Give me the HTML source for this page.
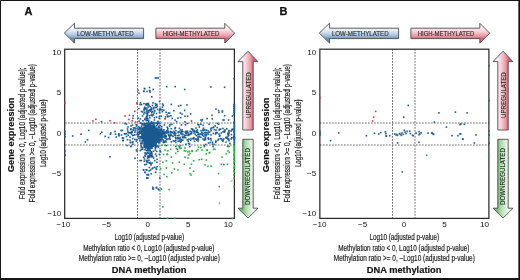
<!DOCTYPE html>
<html><head><meta charset="utf-8"><title>Figure</title>
<style>html,body{margin:0;padding:0;background:#fff;} body{position:relative;width:520px;height:280px;overflow:hidden;} svg{display:block;will-change:transform;} #main{filter:blur(0.3px);} #frame{position:absolute;left:0;top:0;} text{font-family:"Liberation Sans", sans-serif;} .t{fill:#151515;stroke:#151515;stroke-width:0.16px;} .k{fill:#111;} b{} .b{fill:#111;stroke:#111;stroke-width:0.15px;} .ar{fill:#2a2a2a;stroke:#2a2a2a;stroke-width:0.12px;}</style>
</head><body>
<svg id="main" width="520" height="280" viewBox="0 0 520 280">

<rect x="0" y="0" width="520" height="280" fill="#fff"/>
<defs>
<linearGradient id="gbA" gradientUnits="userSpaceOnUse" x1="0" y1="28.2" x2="0" y2="38.6"><stop offset="0" stop-color="#f4f8fb"/><stop offset="0.35" stop-color="#d6e3ef"/><stop offset="0.75" stop-color="#a3bdd6"/><stop offset="1" stop-color="#6a90b6"/></linearGradient>
<linearGradient id="grA" gradientUnits="userSpaceOnUse" x1="0" y1="28.2" x2="0" y2="38.6"><stop offset="0" stop-color="#fcedf0"/><stop offset="0.35" stop-color="#f5cdd4"/><stop offset="0.75" stop-color="#e99aa6"/><stop offset="1" stop-color="#d66275"/></linearGradient>
<linearGradient id="guA" gradientUnits="userSpaceOnUse" x1="242.8" y1="0" x2="253.2" y2="0"><stop offset="0" stop-color="#fcedf0"/><stop offset="0.35" stop-color="#f5cdd4"/><stop offset="0.75" stop-color="#e99aa6"/><stop offset="1" stop-color="#d66275"/></linearGradient>
<linearGradient id="gdA" gradientUnits="userSpaceOnUse" x1="253.2" y1="0" x2="242.8" y2="0"><stop offset="0" stop-color="#eef8ee"/><stop offset="0.35" stop-color="#d2ecd2"/><stop offset="0.75" stop-color="#a6d8a6"/><stop offset="1" stop-color="#78bd78"/></linearGradient>
</defs>
<text x="24.60" y="14.6" font-size="11" font-weight="bold" fill="#111" stroke="#111" stroke-width="0.25">A</text>
<path d="M64.3,33.1 L74.5,23.2 L74.5,28.2 L143.6,28.2 L143.6,38.6 L74.5,38.6 L74.5,43.1 Z" fill="url(#gbA)" stroke="#4a4a4a" stroke-width="0.9"/>
<path d="M234.7,33.2 L224.8,23.3 L224.8,28.2 L155.9,28.2 L155.9,38.6 L224.8,38.6 L224.8,43.1 Z" fill="url(#grA)" stroke="#4a4a4a" stroke-width="0.9"/>
<text transform="translate(76.90,35.90) scale(0.8923,1)" font-size="6.9" class="ar" text-anchor="start">LOW-METHYLATED</text>
<text transform="translate(162.70,36.10) scale(0.8651,1)" font-size="6.9" class="ar" text-anchor="start">HIGH-METHYLATED</text>
<path d="M248.1,51.2 L257.8,61.6 L253.2,61.6 L253.2,130 L242.8,130 L242.8,61.6 L238,61.6 Z" fill="url(#guA)" stroke="#4a4a4a" stroke-width="0.9"/>
<path d="M248.0,218.1 L258,208.2 L253.2,208.2 L253.2,139.3 L242.8,139.3 L242.8,208.2 L238,208.2 Z" fill="url(#gdA)" stroke="#4a4a4a" stroke-width="0.9"/>
<text transform="translate(251.00,118.00) rotate(-90) scale(0.9384,1)" font-size="6.6" class="ar" text-anchor="start">UPREGULATED</text>
<text transform="translate(250.30,205.00) rotate(-90) scale(0.9830,1)" font-size="6.3" class="ar" text-anchor="start">DOWNREGULATED</text>
<g stroke="#6a6a6a" stroke-width="1" stroke-dasharray="1.7,1.3">
<line x1="65.0" y1="123.0" x2="234" y2="123.0"/>
<line x1="65.0" y1="145.0" x2="234" y2="145.0"/>
<line x1="137.5" y1="49.05" x2="137.5" y2="218"/>
<line x1="160" y1="49.05" x2="160" y2="218"/>
</g>
<rect x="64.7" y="49.2" width="169.7" height="169.2" fill="none" stroke="#2b2b2b" stroke-width="1.25"/>
<ellipse cx="150.6" cy="136" rx="8.3" ry="11.5" fill="#1b5a92"/><ellipse cx="156" cy="135" rx="7" ry="5" fill="#1b5a92"/><g fill="#1b5a92"><rect x="71.9" y="135.2" width="1.6" height="1.6"/><rect x="80.2" y="133.4" width="1.6" height="1.6"/><rect x="87.9" y="129.6" width="1.6" height="1.6"/><rect x="86.7" y="138.9" width="1.6" height="1.6"/><rect x="84.6" y="141.2" width="1.6" height="1.6"/><rect x="99.6" y="132.9" width="1.6" height="1.6"/><rect x="101.0" y="131.4" width="1.6" height="1.6"/><rect x="104.4" y="135.6" width="1.6" height="1.6"/><rect x="109.2" y="156.0" width="1.6" height="1.6"/><rect x="138.2" y="92.4" width="1.6" height="1.6"/><rect x="143.7" y="87.7" width="1.6" height="1.6"/><rect x="148.7" y="86.7" width="1.6" height="1.6"/><rect x="152.4" y="88.7" width="1.6" height="1.6"/><rect x="143.2" y="90.7" width="1.6" height="1.6"/><rect x="146.2" y="90.7" width="1.6" height="1.6"/><rect x="148.7" y="89.7" width="1.6" height="1.6"/><rect x="149.2" y="91.4" width="1.6" height="1.6"/><rect x="151.0" y="96.0" width="1.6" height="1.6"/><rect x="158.7" y="100.7" width="1.6" height="1.6"/><rect x="139.2" y="103.7" width="1.6" height="1.6"/><rect x="140.7" y="103.7" width="1.6" height="1.6"/><rect x="144.0" y="106.4" width="1.6" height="1.6"/><rect x="145.7" y="104.2" width="1.6" height="1.6"/><rect x="147.2" y="103.2" width="1.6" height="1.6"/><rect x="148.2" y="105.2" width="1.6" height="1.6"/><rect x="151.7" y="104.7" width="1.6" height="1.6"/><rect x="153.2" y="106.7" width="1.6" height="1.6"/><rect x="155.2" y="104.2" width="1.6" height="1.6"/><rect x="156.0" y="103.7" width="1.6" height="1.6"/><rect x="155.7" y="106.7" width="1.6" height="1.6"/><rect x="143.2" y="109.2" width="1.6" height="1.6"/><rect x="140.7" y="110.7" width="1.6" height="1.6"/><rect x="146.2" y="108.2" width="1.6" height="1.6"/><rect x="147.2" y="110.2" width="1.6" height="1.6"/><rect x="148.7" y="109.2" width="1.6" height="1.6"/><rect x="150.2" y="108.7" width="1.6" height="1.6"/><rect x="153.7" y="109.7" width="1.6" height="1.6"/><rect x="159.2" y="108.2" width="1.6" height="1.6"/><rect x="158.7" y="111.7" width="1.6" height="1.6"/><rect x="143.9" y="87.9" width="1.6" height="1.6"/><rect x="143.0" y="90.4" width="1.6" height="1.6"/><rect x="154.6" y="77.2" width="1.6" height="1.6"/><rect x="156.0" y="77.2" width="1.6" height="1.6"/><rect x="157.4" y="77.2" width="1.6" height="1.6"/><rect x="149.0" y="90.0" width="1.6" height="1.6"/><rect x="165.9" y="85.8" width="1.6" height="1.6"/><rect x="174.4" y="85.8" width="1.6" height="1.6"/><rect x="183.9" y="88.7" width="1.6" height="1.6"/><rect x="210.1" y="86.2" width="1.6" height="1.6"/><rect x="223.8" y="86.5" width="1.6" height="1.6"/><rect x="161.8" y="103.2" width="1.6" height="1.6"/><rect x="162.4" y="104.5" width="1.6" height="1.6"/><rect x="170.5" y="103.6" width="1.6" height="1.6"/><rect x="177.8" y="105.2" width="1.6" height="1.6"/><rect x="186.2" y="104.2" width="1.6" height="1.6"/><rect x="159.8" y="108.3" width="1.6" height="1.6"/><rect x="163.1" y="109.4" width="1.6" height="1.6"/><rect x="161.5" y="110.9" width="1.6" height="1.6"/><rect x="165.4" y="111.5" width="1.6" height="1.6"/><rect x="167.6" y="112.2" width="1.6" height="1.6"/><rect x="168.8" y="112.4" width="1.6" height="1.6"/><rect x="173.1" y="109.9" width="1.6" height="1.6"/><rect x="166.3" y="114.1" width="1.6" height="1.6"/><rect x="168.2" y="115.4" width="1.6" height="1.6"/><rect x="170.1" y="115.0" width="1.6" height="1.6"/><rect x="166.9" y="116.0" width="1.6" height="1.6"/><rect x="160.5" y="115.4" width="1.6" height="1.6"/><rect x="164.3" y="118.0" width="1.6" height="1.6"/><rect x="171.4" y="117.6" width="1.6" height="1.6"/><rect x="177.2" y="117.3" width="1.6" height="1.6"/><rect x="179.5" y="112.2" width="1.6" height="1.6"/><rect x="181.3" y="113.2" width="1.6" height="1.6"/><rect x="183.9" y="109.6" width="1.6" height="1.6"/><rect x="184.2" y="115.4" width="1.6" height="1.6"/><rect x="186.8" y="115.4" width="1.6" height="1.6"/><rect x="189.8" y="113.2" width="1.6" height="1.6"/><rect x="190.7" y="120.2" width="1.6" height="1.6"/><rect x="215.2" y="108.3" width="1.6" height="1.6"/><rect x="217.8" y="109.8" width="1.6" height="1.6"/><rect x="218.1" y="111.6" width="1.6" height="1.6"/><rect x="221.6" y="110.2" width="1.6" height="1.6"/><rect x="221.6" y="111.3" width="1.6" height="1.6"/><rect x="211.2" y="114.5" width="1.6" height="1.6"/><rect x="223.8" y="114.9" width="1.6" height="1.6"/><rect x="231.6" y="115.2" width="1.6" height="1.6"/><rect x="206.3" y="117.8" width="1.6" height="1.6"/><rect x="200.2" y="119.2" width="1.6" height="1.6"/><rect x="201.6" y="118.8" width="1.6" height="1.6"/><rect x="200.9" y="120.2" width="1.6" height="1.6"/><rect x="222.3" y="119.2" width="1.6" height="1.6"/><rect x="223.2" y="119.2" width="1.6" height="1.6"/><rect x="227.8" y="119.2" width="1.6" height="1.6"/><rect x="208.3" y="123.5" width="1.6" height="1.6"/><rect x="216.6" y="122.6" width="1.6" height="1.6"/><rect x="217.8" y="123.5" width="1.6" height="1.6"/><rect x="198.1" y="124.1" width="1.6" height="1.6"/><rect x="202.3" y="124.5" width="1.6" height="1.6"/><rect x="110.0" y="132.2" width="1.6" height="1.6"/><rect x="114.2" y="130.7" width="1.6" height="1.6"/><rect x="114.7" y="133.4" width="1.6" height="1.6"/><rect x="115.5" y="136.2" width="1.6" height="1.6"/><rect x="118.2" y="133.0" width="1.6" height="1.6"/><rect x="118.2" y="135.0" width="1.6" height="1.6"/><rect x="120.2" y="129.7" width="1.6" height="1.6"/><rect x="121.7" y="129.7" width="1.6" height="1.6"/><rect x="120.7" y="134.2" width="1.6" height="1.6"/><rect x="121.7" y="137.2" width="1.6" height="1.6"/><rect x="122.4" y="139.7" width="1.6" height="1.6"/><rect x="123.7" y="133.0" width="1.6" height="1.6"/><rect x="125.7" y="133.0" width="1.6" height="1.6"/><rect x="125.7" y="135.7" width="1.6" height="1.6"/><rect x="126.7" y="138.9" width="1.6" height="1.6"/><rect x="127.4" y="131.7" width="1.6" height="1.6"/><rect x="127.2" y="126.2" width="1.6" height="1.6"/><rect x="126.7" y="128.2" width="1.6" height="1.6"/><rect x="125.7" y="123.2" width="1.6" height="1.6"/><rect x="124.2" y="122.7" width="1.6" height="1.6"/><rect x="130.2" y="125.2" width="1.6" height="1.6"/><rect x="131.7" y="124.2" width="1.6" height="1.6"/><rect x="130.0" y="128.7" width="1.6" height="1.6"/><rect x="131.4" y="131.2" width="1.6" height="1.6"/><rect x="132.7" y="127.2" width="1.6" height="1.6"/><rect x="129.7" y="132.2" width="1.6" height="1.6"/><rect x="130.7" y="133.2" width="1.6" height="1.6"/><rect x="131.7" y="134.7" width="1.6" height="1.6"/><rect x="129.7" y="141.7" width="1.6" height="1.6"/><rect x="131.7" y="141.4" width="1.6" height="1.6"/><rect x="122.0" y="139.7" width="1.6" height="1.6"/><rect x="129.7" y="141.7" width="1.6" height="1.6"/><rect x="132.0" y="141.2" width="1.6" height="1.6"/><rect x="126.2" y="144.7" width="1.6" height="1.6"/><rect x="130.2" y="145.7" width="1.6" height="1.6"/><rect x="142.7" y="169.3" width="1.6" height="1.6"/><rect x="145.4" y="169.0" width="1.6" height="1.6"/><rect x="144.5" y="171.7" width="1.6" height="1.6"/><rect x="146.2" y="174.0" width="1.6" height="1.6"/><rect x="145.9" y="177.0" width="1.6" height="1.6"/><rect x="134.2" y="157.5" width="1.6" height="1.6"/><rect x="139.2" y="159.8" width="1.6" height="1.6"/><rect x="140.6" y="159.8" width="1.6" height="1.6"/><rect x="142.8" y="156.5" width="1.6" height="1.6"/><rect x="144.6" y="155.5" width="1.6" height="1.6"/><rect x="147.1" y="156.5" width="1.6" height="1.6"/><rect x="149.2" y="156.1" width="1.6" height="1.6"/><rect x="151.3" y="155.8" width="1.6" height="1.6"/><rect x="152.8" y="157.2" width="1.6" height="1.6"/><rect x="155.6" y="155.1" width="1.6" height="1.6"/><rect x="158.5" y="153.6" width="1.6" height="1.6"/><rect x="146.3" y="160.1" width="1.6" height="1.6"/><rect x="147.1" y="161.5" width="1.6" height="1.6"/><rect x="148.5" y="162.2" width="1.6" height="1.6"/><rect x="149.9" y="162.9" width="1.6" height="1.6"/><rect x="151.3" y="162.2" width="1.6" height="1.6"/><rect x="150.3" y="164.1" width="1.6" height="1.6"/><rect x="152.1" y="167.2" width="1.6" height="1.6"/><rect x="151.3" y="167.9" width="1.6" height="1.6"/><rect x="142.8" y="168.9" width="1.6" height="1.6"/><rect x="146.1" y="169.3" width="1.6" height="1.6"/><rect x="148.5" y="170.1" width="1.6" height="1.6"/><rect x="144.2" y="171.5" width="1.6" height="1.6"/><rect x="150.3" y="172.9" width="1.6" height="1.6"/><rect x="147.1" y="173.6" width="1.6" height="1.6"/><rect x="147.8" y="174.3" width="1.6" height="1.6"/><rect x="156.3" y="165.8" width="1.6" height="1.6"/><rect x="155.6" y="168.6" width="1.6" height="1.6"/><rect x="154.9" y="171.5" width="1.6" height="1.6"/><rect x="156.3" y="158.6" width="1.6" height="1.6"/><rect x="156.1" y="161.5" width="1.6" height="1.6"/><rect x="159.2" y="150.1" width="1.6" height="1.6"/><rect x="158.9" y="177.2" width="1.6" height="1.6"/><rect x="146.1" y="177.2" width="1.6" height="1.6"/><rect x="147.1" y="177.2" width="1.6" height="1.6"/><rect x="152.1" y="186.5" width="1.6" height="1.6"/><rect x="155.6" y="186.5" width="1.6" height="1.6"/><rect x="135.6" y="149.3" width="1.6" height="1.6"/><rect x="136.3" y="150.3" width="1.6" height="1.6"/><rect x="151.9" y="187.7" width="1.6" height="1.6"/><rect x="152.6" y="188.3" width="1.6" height="1.6"/><rect x="155.7" y="187.1" width="1.6" height="1.6"/><rect x="157.4" y="188.3" width="1.6" height="1.6"/><rect x="158.0" y="189.0" width="1.6" height="1.6"/><rect x="64.2" y="130.7" width="1.6" height="1.6"/><rect x="64.2" y="133.4" width="1.6" height="1.6"/><rect x="64.2" y="135.9" width="1.6" height="1.6"/><rect x="64.2" y="150.2" width="1.6" height="1.6"/><rect x="64.2" y="154.4" width="1.6" height="1.6"/><rect x="233.2" y="77.8" width="1.6" height="1.6"/><rect x="233.2" y="103.8" width="1.6" height="1.6"/><rect x="233.2" y="105.7" width="1.6" height="1.6"/><rect x="233.2" y="107.7" width="1.6" height="1.6"/><rect x="233.2" y="109.7" width="1.6" height="1.6"/><rect x="233.2" y="111.7" width="1.6" height="1.6"/><rect x="233.2" y="113.8" width="1.6" height="1.6"/><rect x="233.2" y="122.2" width="1.6" height="1.6"/><rect x="139.7" y="102.0" width="1.6" height="1.6"/><rect x="147.0" y="102.6" width="1.6" height="1.6"/><rect x="152.2" y="102.1" width="1.6" height="1.6"/><rect x="143.2" y="102.8" width="1.6" height="1.6"/><rect x="145.3" y="103.1" width="1.6" height="1.6"/><rect x="147.9" y="103.6" width="1.6" height="1.6"/><rect x="154.6" y="102.8" width="1.6" height="1.6"/><rect x="145.2" y="103.7" width="1.6" height="1.6"/><rect x="146.5" y="104.1" width="1.6" height="1.6"/><rect x="155.0" y="104.4" width="1.6" height="1.6"/><rect x="179.9" y="104.6" width="1.6" height="1.6"/><rect x="156.5" y="105.3" width="1.6" height="1.6"/><rect x="147.4" y="106.2" width="1.6" height="1.6"/><rect x="149.4" y="105.9" width="1.6" height="1.6"/><rect x="161.6" y="106.4" width="1.6" height="1.6"/><rect x="143.5" y="107.6" width="1.6" height="1.6"/><rect x="145.6" y="107.3" width="1.6" height="1.6"/><rect x="150.8" y="107.2" width="1.6" height="1.6"/><rect x="154.4" y="106.7" width="1.6" height="1.6"/><rect x="138.1" y="107.8" width="1.6" height="1.6"/><rect x="144.8" y="108.0" width="1.6" height="1.6"/><rect x="150.6" y="108.0" width="1.6" height="1.6"/><rect x="152.5" y="107.9" width="1.6" height="1.6"/><rect x="156.9" y="108.6" width="1.6" height="1.6"/><rect x="143.6" y="108.9" width="1.6" height="1.6"/><rect x="150.5" y="108.9" width="1.6" height="1.6"/><rect x="159.1" y="108.9" width="1.6" height="1.6"/><rect x="161.3" y="109.0" width="1.6" height="1.6"/><rect x="145.7" y="110.2" width="1.6" height="1.6"/><rect x="147.8" y="109.7" width="1.6" height="1.6"/><rect x="149.4" y="109.7" width="1.6" height="1.6"/><rect x="150.0" y="110.4" width="1.6" height="1.6"/><rect x="151.8" y="110.6" width="1.6" height="1.6"/><rect x="154.0" y="110.2" width="1.6" height="1.6"/><rect x="158.8" y="109.9" width="1.6" height="1.6"/><rect x="141.9" y="111.2" width="1.6" height="1.6"/><rect x="143.9" y="111.5" width="1.6" height="1.6"/><rect x="146.9" y="111.7" width="1.6" height="1.6"/><rect x="148.0" y="111.4" width="1.6" height="1.6"/><rect x="145.4" y="112.5" width="1.6" height="1.6"/><rect x="146.6" y="112.7" width="1.6" height="1.6"/><rect x="151.0" y="112.0" width="1.6" height="1.6"/><rect x="153.2" y="112.2" width="1.6" height="1.6"/><rect x="155.7" y="112.7" width="1.6" height="1.6"/><rect x="143.0" y="113.2" width="1.6" height="1.6"/><rect x="146.5" y="113.8" width="1.6" height="1.6"/><rect x="146.8" y="114.6" width="1.6" height="1.6"/><rect x="150.4" y="114.3" width="1.6" height="1.6"/><rect x="151.2" y="114.4" width="1.6" height="1.6"/><rect x="152.4" y="114.0" width="1.6" height="1.6"/><rect x="132.3" y="114.9" width="1.6" height="1.6"/><rect x="141.7" y="115.1" width="1.6" height="1.6"/><rect x="146.1" y="115.6" width="1.6" height="1.6"/><rect x="148.9" y="114.9" width="1.6" height="1.6"/><rect x="151.6" y="115.0" width="1.6" height="1.6"/><rect x="158.5" y="115.7" width="1.6" height="1.6"/><rect x="145.4" y="116.5" width="1.6" height="1.6"/><rect x="146.0" y="115.8" width="1.6" height="1.6"/><rect x="155.8" y="116.4" width="1.6" height="1.6"/><rect x="164.7" y="116.1" width="1.6" height="1.6"/><rect x="132.1" y="117.5" width="1.6" height="1.6"/><rect x="137.4" y="117.3" width="1.6" height="1.6"/><rect x="146.0" y="117.3" width="1.6" height="1.6"/><rect x="148.9" y="117.0" width="1.6" height="1.6"/><rect x="153.7" y="116.9" width="1.6" height="1.6"/><rect x="158.5" y="117.5" width="1.6" height="1.6"/><rect x="179.8" y="116.8" width="1.6" height="1.6"/><rect x="139.6" y="118.1" width="1.6" height="1.6"/><rect x="144.6" y="118.0" width="1.6" height="1.6"/><rect x="145.0" y="117.8" width="1.6" height="1.6"/><rect x="146.3" y="117.8" width="1.6" height="1.6"/><rect x="147.0" y="118.0" width="1.6" height="1.6"/><rect x="211.5" y="118.0" width="1.6" height="1.6"/><rect x="143.9" y="118.7" width="1.6" height="1.6"/><rect x="146.4" y="119.5" width="1.6" height="1.6"/><rect x="147.7" y="119.5" width="1.6" height="1.6"/><rect x="153.6" y="119.2" width="1.6" height="1.6"/><rect x="174.3" y="119.3" width="1.6" height="1.6"/><rect x="138.4" y="120.3" width="1.6" height="1.6"/><rect x="142.1" y="120.0" width="1.6" height="1.6"/><rect x="145.3" y="119.8" width="1.6" height="1.6"/><rect x="147.8" y="120.2" width="1.6" height="1.6"/><rect x="100.7" y="120.9" width="1.6" height="1.6"/><rect x="147.8" y="121.3" width="1.6" height="1.6"/><rect x="150.4" y="121.6" width="1.6" height="1.6"/><rect x="150.8" y="121.2" width="1.6" height="1.6"/><rect x="152.6" y="121.7" width="1.6" height="1.6"/><rect x="156.7" y="120.9" width="1.6" height="1.6"/><rect x="157.2" y="120.7" width="1.6" height="1.6"/><rect x="175.8" y="120.8" width="1.6" height="1.6"/><rect x="184.1" y="121.0" width="1.6" height="1.6"/><rect x="139.5" y="122.2" width="1.6" height="1.6"/><rect x="140.5" y="122.5" width="1.6" height="1.6"/><rect x="143.7" y="122.6" width="1.6" height="1.6"/><rect x="146.5" y="122.5" width="1.6" height="1.6"/><rect x="150.5" y="122.6" width="1.6" height="1.6"/><rect x="151.4" y="122.4" width="1.6" height="1.6"/><rect x="154.0" y="122.2" width="1.6" height="1.6"/><rect x="155.6" y="122.6" width="1.6" height="1.6"/><rect x="156.4" y="122.4" width="1.6" height="1.6"/><rect x="157.5" y="122.5" width="1.6" height="1.6"/><rect x="159.0" y="122.5" width="1.6" height="1.6"/><rect x="141.8" y="122.9" width="1.6" height="1.6"/><rect x="143.5" y="123.6" width="1.6" height="1.6"/><rect x="144.5" y="123.1" width="1.6" height="1.6"/><rect x="145.2" y="122.7" width="1.6" height="1.6"/><rect x="146.4" y="123.4" width="1.6" height="1.6"/><rect x="147.6" y="123.5" width="1.6" height="1.6"/><rect x="147.8" y="123.3" width="1.6" height="1.6"/><rect x="148.9" y="122.7" width="1.6" height="1.6"/><rect x="149.7" y="123.4" width="1.6" height="1.6"/><rect x="152.1" y="122.9" width="1.6" height="1.6"/><rect x="152.9" y="123.5" width="1.6" height="1.6"/><rect x="171.1" y="123.6" width="1.6" height="1.6"/><rect x="186.6" y="122.7" width="1.6" height="1.6"/><rect x="200.0" y="123.4" width="1.6" height="1.6"/><rect x="135.4" y="123.9" width="1.6" height="1.6"/><rect x="141.3" y="124.1" width="1.6" height="1.6"/><rect x="143.4" y="123.7" width="1.6" height="1.6"/><rect x="143.8" y="123.8" width="1.6" height="1.6"/><rect x="144.9" y="124.5" width="1.6" height="1.6"/><rect x="146.3" y="124.6" width="1.6" height="1.6"/><rect x="146.9" y="124.5" width="1.6" height="1.6"/><rect x="148.6" y="124.0" width="1.6" height="1.6"/><rect x="149.7" y="124.0" width="1.6" height="1.6"/><rect x="152.2" y="124.6" width="1.6" height="1.6"/><rect x="153.5" y="124.5" width="1.6" height="1.6"/><rect x="156.7" y="123.8" width="1.6" height="1.6"/><rect x="163.6" y="124.1" width="1.6" height="1.6"/><rect x="169.2" y="123.8" width="1.6" height="1.6"/><rect x="180.6" y="124.1" width="1.6" height="1.6"/><rect x="184.6" y="124.0" width="1.6" height="1.6"/><rect x="197.1" y="123.8" width="1.6" height="1.6"/><rect x="135.7" y="125.4" width="1.6" height="1.6"/><rect x="140.7" y="125.6" width="1.6" height="1.6"/><rect x="143.2" y="125.0" width="1.6" height="1.6"/><rect x="144.6" y="125.5" width="1.6" height="1.6"/><rect x="145.0" y="125.4" width="1.6" height="1.6"/><rect x="146.2" y="125.1" width="1.6" height="1.6"/><rect x="147.5" y="125.6" width="1.6" height="1.6"/><rect x="147.8" y="125.3" width="1.6" height="1.6"/><rect x="149.4" y="125.2" width="1.6" height="1.6"/><rect x="149.8" y="125.4" width="1.6" height="1.6"/><rect x="151.5" y="125.4" width="1.6" height="1.6"/><rect x="152.6" y="125.6" width="1.6" height="1.6"/><rect x="152.8" y="125.3" width="1.6" height="1.6"/><rect x="153.9" y="125.6" width="1.6" height="1.6"/><rect x="155.9" y="125.0" width="1.6" height="1.6"/><rect x="158.1" y="125.5" width="1.6" height="1.6"/><rect x="159.4" y="125.0" width="1.6" height="1.6"/><rect x="168.8" y="125.3" width="1.6" height="1.6"/><rect x="214.4" y="125.1" width="1.6" height="1.6"/><rect x="137.9" y="125.9" width="1.6" height="1.6"/><rect x="143.7" y="126.5" width="1.6" height="1.6"/><rect x="145.0" y="125.8" width="1.6" height="1.6"/><rect x="146.5" y="125.8" width="1.6" height="1.6"/><rect x="147.6" y="126.4" width="1.6" height="1.6"/><rect x="148.4" y="126.5" width="1.6" height="1.6"/><rect x="148.9" y="126.4" width="1.6" height="1.6"/><rect x="149.8" y="125.9" width="1.6" height="1.6"/><rect x="150.8" y="126.1" width="1.6" height="1.6"/><rect x="152.3" y="126.1" width="1.6" height="1.6"/><rect x="152.8" y="126.0" width="1.6" height="1.6"/><rect x="161.0" y="125.8" width="1.6" height="1.6"/><rect x="166.4" y="126.5" width="1.6" height="1.6"/><rect x="198.5" y="126.2" width="1.6" height="1.6"/><rect x="212.9" y="126.5" width="1.6" height="1.6"/><rect x="133.8" y="127.0" width="1.6" height="1.6"/><rect x="135.1" y="127.7" width="1.6" height="1.6"/><rect x="138.7" y="127.0" width="1.6" height="1.6"/><rect x="140.2" y="127.0" width="1.6" height="1.6"/><rect x="142.3" y="127.0" width="1.6" height="1.6"/><rect x="143.4" y="127.4" width="1.6" height="1.6"/><rect x="144.2" y="127.0" width="1.6" height="1.6"/><rect x="145.2" y="127.3" width="1.6" height="1.6"/><rect x="146.6" y="127.6" width="1.6" height="1.6"/><rect x="147.5" y="127.2" width="1.6" height="1.6"/><rect x="148.0" y="127.4" width="1.6" height="1.6"/><rect x="148.8" y="126.7" width="1.6" height="1.6"/><rect x="150.0" y="127.3" width="1.6" height="1.6"/><rect x="151.5" y="127.0" width="1.6" height="1.6"/><rect x="152.0" y="127.0" width="1.6" height="1.6"/><rect x="153.7" y="127.3" width="1.6" height="1.6"/><rect x="153.8" y="127.2" width="1.6" height="1.6"/><rect x="155.7" y="127.6" width="1.6" height="1.6"/><rect x="156.1" y="127.7" width="1.6" height="1.6"/><rect x="157.7" y="127.0" width="1.6" height="1.6"/><rect x="158.6" y="127.0" width="1.6" height="1.6"/><rect x="167.1" y="127.6" width="1.6" height="1.6"/><rect x="174.6" y="126.8" width="1.6" height="1.6"/><rect x="178.7" y="127.5" width="1.6" height="1.6"/><rect x="195.2" y="127.3" width="1.6" height="1.6"/><rect x="202.8" y="127.4" width="1.6" height="1.6"/><rect x="210.5" y="127.3" width="1.6" height="1.6"/><rect x="212.1" y="126.9" width="1.6" height="1.6"/><rect x="216.4" y="126.8" width="1.6" height="1.6"/><rect x="130.0" y="128.2" width="1.6" height="1.6"/><rect x="134.8" y="127.7" width="1.6" height="1.6"/><rect x="137.2" y="128.3" width="1.6" height="1.6"/><rect x="138.6" y="128.1" width="1.6" height="1.6"/><rect x="140.3" y="128.2" width="1.6" height="1.6"/><rect x="141.5" y="127.7" width="1.6" height="1.6"/><rect x="142.0" y="128.6" width="1.6" height="1.6"/><rect x="142.7" y="128.0" width="1.6" height="1.6"/><rect x="144.5" y="127.8" width="1.6" height="1.6"/><rect x="145.1" y="128.2" width="1.6" height="1.6"/><rect x="146.1" y="128.7" width="1.6" height="1.6"/><rect x="147.6" y="128.4" width="1.6" height="1.6"/><rect x="147.8" y="127.7" width="1.6" height="1.6"/><rect x="149.4" y="128.3" width="1.6" height="1.6"/><rect x="150.0" y="128.6" width="1.6" height="1.6"/><rect x="150.7" y="128.0" width="1.6" height="1.6"/><rect x="151.8" y="128.7" width="1.6" height="1.6"/><rect x="153.5" y="127.7" width="1.6" height="1.6"/><rect x="153.8" y="128.4" width="1.6" height="1.6"/><rect x="155.5" y="128.5" width="1.6" height="1.6"/><rect x="155.7" y="127.8" width="1.6" height="1.6"/><rect x="160.6" y="127.8" width="1.6" height="1.6"/><rect x="160.7" y="128.7" width="1.6" height="1.6"/><rect x="170.5" y="127.9" width="1.6" height="1.6"/><rect x="174.1" y="127.8" width="1.6" height="1.6"/><rect x="190.8" y="128.0" width="1.6" height="1.6"/><rect x="191.7" y="128.4" width="1.6" height="1.6"/><rect x="210.0" y="128.2" width="1.6" height="1.6"/><rect x="218.7" y="128.5" width="1.6" height="1.6"/><rect x="219.9" y="128.4" width="1.6" height="1.6"/><rect x="222.2" y="127.7" width="1.6" height="1.6"/><rect x="226.0" y="127.9" width="1.6" height="1.6"/><rect x="231.5" y="128.4" width="1.6" height="1.6"/><rect x="232.9" y="128.6" width="1.6" height="1.6"/><rect x="132.5" y="128.9" width="1.6" height="1.6"/><rect x="133.0" y="129.3" width="1.6" height="1.6"/><rect x="138.2" y="128.9" width="1.6" height="1.6"/><rect x="138.8" y="128.8" width="1.6" height="1.6"/><rect x="140.6" y="129.4" width="1.6" height="1.6"/><rect x="140.9" y="129.3" width="1.6" height="1.6"/><rect x="141.7" y="128.8" width="1.6" height="1.6"/><rect x="143.3" y="128.8" width="1.6" height="1.6"/><rect x="143.9" y="129.3" width="1.6" height="1.6"/><rect x="145.0" y="129.6" width="1.6" height="1.6"/><rect x="146.1" y="129.2" width="1.6" height="1.6"/><rect x="147.7" y="129.5" width="1.6" height="1.6"/><rect x="148.4" y="129.3" width="1.6" height="1.6"/><rect x="149.7" y="129.5" width="1.6" height="1.6"/><rect x="150.3" y="129.1" width="1.6" height="1.6"/><rect x="151.5" y="128.9" width="1.6" height="1.6"/><rect x="152.2" y="129.1" width="1.6" height="1.6"/><rect x="153.4" y="129.7" width="1.6" height="1.6"/><rect x="154.5" y="129.0" width="1.6" height="1.6"/><rect x="155.2" y="129.6" width="1.6" height="1.6"/><rect x="156.1" y="128.7" width="1.6" height="1.6"/><rect x="157.2" y="129.0" width="1.6" height="1.6"/><rect x="158.2" y="128.8" width="1.6" height="1.6"/><rect x="159.1" y="129.0" width="1.6" height="1.6"/><rect x="160.2" y="129.1" width="1.6" height="1.6"/><rect x="160.7" y="129.3" width="1.6" height="1.6"/><rect x="163.1" y="129.0" width="1.6" height="1.6"/><rect x="166.8" y="128.9" width="1.6" height="1.6"/><rect x="179.7" y="129.2" width="1.6" height="1.6"/><rect x="181.4" y="129.1" width="1.6" height="1.6"/><rect x="191.9" y="129.5" width="1.6" height="1.6"/><rect x="193.1" y="129.5" width="1.6" height="1.6"/><rect x="196.6" y="129.1" width="1.6" height="1.6"/><rect x="202.2" y="128.7" width="1.6" height="1.6"/><rect x="203.6" y="129.3" width="1.6" height="1.6"/><rect x="205.2" y="129.2" width="1.6" height="1.6"/><rect x="206.0" y="129.6" width="1.6" height="1.6"/><rect x="213.6" y="128.9" width="1.6" height="1.6"/><rect x="215.2" y="129.3" width="1.6" height="1.6"/><rect x="218.4" y="129.2" width="1.6" height="1.6"/><rect x="224.1" y="129.1" width="1.6" height="1.6"/><rect x="228.2" y="129.7" width="1.6" height="1.6"/><rect x="231.2" y="129.2" width="1.6" height="1.6"/><rect x="127.0" y="130.3" width="1.6" height="1.6"/><rect x="131.5" y="130.5" width="1.6" height="1.6"/><rect x="134.9" y="129.8" width="1.6" height="1.6"/><rect x="138.7" y="130.7" width="1.6" height="1.6"/><rect x="140.0" y="130.6" width="1.6" height="1.6"/><rect x="141.5" y="130.6" width="1.6" height="1.6"/><rect x="142.3" y="129.7" width="1.6" height="1.6"/><rect x="143.3" y="130.5" width="1.6" height="1.6"/><rect x="143.8" y="129.9" width="1.6" height="1.6"/><rect x="144.8" y="129.8" width="1.6" height="1.6"/><rect x="146.5" y="130.2" width="1.6" height="1.6"/><rect x="147.7" y="130.3" width="1.6" height="1.6"/><rect x="148.3" y="130.6" width="1.6" height="1.6"/><rect x="149.1" y="130.3" width="1.6" height="1.6"/><rect x="150.3" y="129.9" width="1.6" height="1.6"/><rect x="151.0" y="130.2" width="1.6" height="1.6"/><rect x="151.7" y="130.2" width="1.6" height="1.6"/><rect x="153.3" y="130.5" width="1.6" height="1.6"/><rect x="154.3" y="130.0" width="1.6" height="1.6"/><rect x="155.2" y="130.2" width="1.6" height="1.6"/><rect x="156.5" y="130.2" width="1.6" height="1.6"/><rect x="157.0" y="130.5" width="1.6" height="1.6"/><rect x="159.8" y="130.3" width="1.6" height="1.6"/><rect x="161.6" y="130.4" width="1.6" height="1.6"/><rect x="162.1" y="130.4" width="1.6" height="1.6"/><rect x="163.1" y="130.5" width="1.6" height="1.6"/><rect x="165.9" y="130.0" width="1.6" height="1.6"/><rect x="167.3" y="130.3" width="1.6" height="1.6"/><rect x="173.2" y="130.6" width="1.6" height="1.6"/><rect x="175.1" y="129.9" width="1.6" height="1.6"/><rect x="180.7" y="130.4" width="1.6" height="1.6"/><rect x="185.2" y="130.5" width="1.6" height="1.6"/><rect x="186.8" y="130.6" width="1.6" height="1.6"/><rect x="189.4" y="130.6" width="1.6" height="1.6"/><rect x="193.2" y="130.5" width="1.6" height="1.6"/><rect x="195.6" y="130.4" width="1.6" height="1.6"/><rect x="195.8" y="130.3" width="1.6" height="1.6"/><rect x="200.3" y="129.9" width="1.6" height="1.6"/><rect x="202.2" y="129.7" width="1.6" height="1.6"/><rect x="207.6" y="130.2" width="1.6" height="1.6"/><rect x="210.4" y="129.9" width="1.6" height="1.6"/><rect x="223.2" y="130.4" width="1.6" height="1.6"/><rect x="224.0" y="130.7" width="1.6" height="1.6"/><rect x="228.2" y="130.6" width="1.6" height="1.6"/><rect x="230.4" y="130.3" width="1.6" height="1.6"/><rect x="130.6" y="131.4" width="1.6" height="1.6"/><rect x="134.1" y="131.4" width="1.6" height="1.6"/><rect x="136.9" y="131.4" width="1.6" height="1.6"/><rect x="138.6" y="131.6" width="1.6" height="1.6"/><rect x="140.2" y="130.8" width="1.6" height="1.6"/><rect x="140.8" y="131.2" width="1.6" height="1.6"/><rect x="143.1" y="131.0" width="1.6" height="1.6"/><rect x="143.8" y="131.5" width="1.6" height="1.6"/><rect x="144.8" y="131.7" width="1.6" height="1.6"/><rect x="146.1" y="131.1" width="1.6" height="1.6"/><rect x="147.2" y="131.6" width="1.6" height="1.6"/><rect x="148.0" y="130.7" width="1.6" height="1.6"/><rect x="149.3" y="131.4" width="1.6" height="1.6"/><rect x="149.8" y="131.6" width="1.6" height="1.6"/><rect x="151.2" y="131.7" width="1.6" height="1.6"/><rect x="152.3" y="130.8" width="1.6" height="1.6"/><rect x="153.4" y="130.9" width="1.6" height="1.6"/><rect x="154.7" y="131.5" width="1.6" height="1.6"/><rect x="155.6" y="131.4" width="1.6" height="1.6"/><rect x="156.5" y="131.5" width="1.6" height="1.6"/><rect x="157.4" y="130.9" width="1.6" height="1.6"/><rect x="158.0" y="131.6" width="1.6" height="1.6"/><rect x="159.0" y="131.7" width="1.6" height="1.6"/><rect x="159.8" y="131.0" width="1.6" height="1.6"/><rect x="161.6" y="131.1" width="1.6" height="1.6"/><rect x="162.6" y="131.2" width="1.6" height="1.6"/><rect x="164.2" y="131.7" width="1.6" height="1.6"/><rect x="165.2" y="131.2" width="1.6" height="1.6"/><rect x="165.8" y="131.2" width="1.6" height="1.6"/><rect x="167.8" y="131.6" width="1.6" height="1.6"/><rect x="169.6" y="130.7" width="1.6" height="1.6"/><rect x="171.0" y="131.1" width="1.6" height="1.6"/><rect x="177.7" y="130.9" width="1.6" height="1.6"/><rect x="178.2" y="131.1" width="1.6" height="1.6"/><rect x="180.4" y="131.1" width="1.6" height="1.6"/><rect x="182.1" y="131.0" width="1.6" height="1.6"/><rect x="184.4" y="131.1" width="1.6" height="1.6"/><rect x="186.2" y="131.3" width="1.6" height="1.6"/><rect x="189.8" y="130.8" width="1.6" height="1.6"/><rect x="190.9" y="131.4" width="1.6" height="1.6"/><rect x="193.9" y="130.9" width="1.6" height="1.6"/><rect x="195.4" y="131.3" width="1.6" height="1.6"/><rect x="196.5" y="131.4" width="1.6" height="1.6"/><rect x="201.1" y="131.6" width="1.6" height="1.6"/><rect x="204.5" y="131.6" width="1.6" height="1.6"/><rect x="208.8" y="131.4" width="1.6" height="1.6"/><rect x="215.8" y="131.7" width="1.6" height="1.6"/><rect x="222.2" y="131.0" width="1.6" height="1.6"/><rect x="223.6" y="131.3" width="1.6" height="1.6"/><rect x="233.2" y="131.2" width="1.6" height="1.6"/><rect x="128.4" y="131.9" width="1.6" height="1.6"/><rect x="129.7" y="131.9" width="1.6" height="1.6"/><rect x="136.7" y="132.2" width="1.6" height="1.6"/><rect x="138.5" y="132.2" width="1.6" height="1.6"/><rect x="139.1" y="131.8" width="1.6" height="1.6"/><rect x="139.9" y="132.4" width="1.6" height="1.6"/><rect x="141.4" y="132.3" width="1.6" height="1.6"/><rect x="142.7" y="132.0" width="1.6" height="1.6"/><rect x="143.1" y="132.6" width="1.6" height="1.6"/><rect x="144.5" y="132.3" width="1.6" height="1.6"/><rect x="145.6" y="132.7" width="1.6" height="1.6"/><rect x="146.0" y="132.5" width="1.6" height="1.6"/><rect x="147.5" y="132.5" width="1.6" height="1.6"/><rect x="148.1" y="132.5" width="1.6" height="1.6"/><rect x="149.2" y="132.6" width="1.6" height="1.6"/><rect x="149.7" y="132.2" width="1.6" height="1.6"/><rect x="151.5" y="131.8" width="1.6" height="1.6"/><rect x="151.9" y="131.8" width="1.6" height="1.6"/><rect x="153.4" y="132.1" width="1.6" height="1.6"/><rect x="154.3" y="132.6" width="1.6" height="1.6"/><rect x="155.2" y="132.2" width="1.6" height="1.6"/><rect x="156.4" y="131.8" width="1.6" height="1.6"/><rect x="157.6" y="132.5" width="1.6" height="1.6"/><rect x="158.1" y="131.8" width="1.6" height="1.6"/><rect x="159.2" y="132.6" width="1.6" height="1.6"/><rect x="161.4" y="132.5" width="1.6" height="1.6"/><rect x="162.6" y="131.9" width="1.6" height="1.6"/><rect x="163.2" y="132.4" width="1.6" height="1.6"/><rect x="164.0" y="132.6" width="1.6" height="1.6"/><rect x="165.1" y="131.9" width="1.6" height="1.6"/><rect x="166.4" y="132.1" width="1.6" height="1.6"/><rect x="169.7" y="132.0" width="1.6" height="1.6"/><rect x="171.8" y="131.9" width="1.6" height="1.6"/><rect x="173.6" y="132.2" width="1.6" height="1.6"/><rect x="174.0" y="132.2" width="1.6" height="1.6"/><rect x="175.0" y="132.6" width="1.6" height="1.6"/><rect x="177.3" y="131.8" width="1.6" height="1.6"/><rect x="180.2" y="132.0" width="1.6" height="1.6"/><rect x="184.9" y="132.4" width="1.6" height="1.6"/><rect x="187.1" y="132.0" width="1.6" height="1.6"/><rect x="193.3" y="132.1" width="1.6" height="1.6"/><rect x="197.5" y="131.9" width="1.6" height="1.6"/><rect x="203.7" y="131.9" width="1.6" height="1.6"/><rect x="204.5" y="131.9" width="1.6" height="1.6"/><rect x="205.8" y="132.1" width="1.6" height="1.6"/><rect x="207.2" y="132.0" width="1.6" height="1.6"/><rect x="212.6" y="132.6" width="1.6" height="1.6"/><rect x="215.0" y="131.9" width="1.6" height="1.6"/><rect x="216.3" y="132.0" width="1.6" height="1.6"/><rect x="220.5" y="132.2" width="1.6" height="1.6"/><rect x="227.0" y="132.5" width="1.6" height="1.6"/><rect x="228.3" y="132.2" width="1.6" height="1.6"/><rect x="109.6" y="133.3" width="1.6" height="1.6"/><rect x="124.5" y="132.9" width="1.6" height="1.6"/><rect x="138.0" y="133.5" width="1.6" height="1.6"/><rect x="141.2" y="133.3" width="1.6" height="1.6"/><rect x="141.7" y="133.1" width="1.6" height="1.6"/><rect x="142.9" y="133.2" width="1.6" height="1.6"/><rect x="144.0" y="133.5" width="1.6" height="1.6"/><rect x="145.5" y="133.5" width="1.6" height="1.6"/><rect x="146.0" y="133.6" width="1.6" height="1.6"/><rect x="147.2" y="133.7" width="1.6" height="1.6"/><rect x="148.4" y="132.8" width="1.6" height="1.6"/><rect x="149.0" y="132.8" width="1.6" height="1.6"/><rect x="149.9" y="133.7" width="1.6" height="1.6"/><rect x="150.9" y="133.4" width="1.6" height="1.6"/><rect x="152.2" y="132.8" width="1.6" height="1.6"/><rect x="153.5" y="133.3" width="1.6" height="1.6"/><rect x="154.0" y="132.8" width="1.6" height="1.6"/><rect x="155.4" y="133.3" width="1.6" height="1.6"/><rect x="155.9" y="133.2" width="1.6" height="1.6"/><rect x="156.7" y="133.1" width="1.6" height="1.6"/><rect x="158.6" y="132.8" width="1.6" height="1.6"/><rect x="159.5" y="133.0" width="1.6" height="1.6"/><rect x="160.7" y="133.3" width="1.6" height="1.6"/><rect x="161.7" y="133.0" width="1.6" height="1.6"/><rect x="163.1" y="133.0" width="1.6" height="1.6"/><rect x="167.7" y="133.4" width="1.6" height="1.6"/><rect x="170.3" y="133.5" width="1.6" height="1.6"/><rect x="173.2" y="133.0" width="1.6" height="1.6"/><rect x="180.0" y="132.9" width="1.6" height="1.6"/><rect x="181.5" y="133.6" width="1.6" height="1.6"/><rect x="182.1" y="133.6" width="1.6" height="1.6"/><rect x="185.8" y="132.9" width="1.6" height="1.6"/><rect x="188.0" y="133.2" width="1.6" height="1.6"/><rect x="189.8" y="133.0" width="1.6" height="1.6"/><rect x="190.8" y="132.8" width="1.6" height="1.6"/><rect x="194.5" y="133.5" width="1.6" height="1.6"/><rect x="197.7" y="133.7" width="1.6" height="1.6"/><rect x="199.6" y="133.5" width="1.6" height="1.6"/><rect x="199.8" y="133.3" width="1.6" height="1.6"/><rect x="201.4" y="133.4" width="1.6" height="1.6"/><rect x="202.2" y="132.9" width="1.6" height="1.6"/><rect x="207.6" y="133.5" width="1.6" height="1.6"/><rect x="214.7" y="133.2" width="1.6" height="1.6"/><rect x="218.2" y="133.3" width="1.6" height="1.6"/><rect x="227.0" y="133.0" width="1.6" height="1.6"/><rect x="117.9" y="134.0" width="1.6" height="1.6"/><rect x="127.5" y="134.5" width="1.6" height="1.6"/><rect x="132.7" y="134.4" width="1.6" height="1.6"/><rect x="134.0" y="134.1" width="1.6" height="1.6"/><rect x="136.3" y="133.8" width="1.6" height="1.6"/><rect x="140.9" y="133.7" width="1.6" height="1.6"/><rect x="141.8" y="133.9" width="1.6" height="1.6"/><rect x="143.6" y="134.5" width="1.6" height="1.6"/><rect x="144.7" y="133.9" width="1.6" height="1.6"/><rect x="145.1" y="134.5" width="1.6" height="1.6"/><rect x="146.5" y="134.2" width="1.6" height="1.6"/><rect x="147.0" y="133.7" width="1.6" height="1.6"/><rect x="148.4" y="134.2" width="1.6" height="1.6"/><rect x="148.9" y="134.0" width="1.6" height="1.6"/><rect x="150.6" y="134.4" width="1.6" height="1.6"/><rect x="151.4" y="133.7" width="1.6" height="1.6"/><rect x="152.0" y="134.5" width="1.6" height="1.6"/><rect x="153.4" y="133.9" width="1.6" height="1.6"/><rect x="154.3" y="134.4" width="1.6" height="1.6"/><rect x="155.5" y="134.6" width="1.6" height="1.6"/><rect x="156.2" y="134.4" width="1.6" height="1.6"/><rect x="157.3" y="134.2" width="1.6" height="1.6"/><rect x="158.2" y="133.7" width="1.6" height="1.6"/><rect x="159.1" y="134.0" width="1.6" height="1.6"/><rect x="159.9" y="134.0" width="1.6" height="1.6"/><rect x="163.5" y="133.8" width="1.6" height="1.6"/><rect x="164.4" y="134.5" width="1.6" height="1.6"/><rect x="164.9" y="134.7" width="1.6" height="1.6"/><rect x="167.8" y="134.3" width="1.6" height="1.6"/><rect x="169.6" y="134.4" width="1.6" height="1.6"/><rect x="173.7" y="134.3" width="1.6" height="1.6"/><rect x="174.8" y="134.4" width="1.6" height="1.6"/><rect x="178.2" y="134.5" width="1.6" height="1.6"/><rect x="181.5" y="133.7" width="1.6" height="1.6"/><rect x="184.1" y="134.4" width="1.6" height="1.6"/><rect x="186.2" y="134.5" width="1.6" height="1.6"/><rect x="187.6" y="134.6" width="1.6" height="1.6"/><rect x="188.8" y="133.9" width="1.6" height="1.6"/><rect x="197.1" y="133.7" width="1.6" height="1.6"/><rect x="198.5" y="133.8" width="1.6" height="1.6"/><rect x="201.8" y="134.4" width="1.6" height="1.6"/><rect x="204.2" y="134.1" width="1.6" height="1.6"/><rect x="205.9" y="133.8" width="1.6" height="1.6"/><rect x="210.2" y="134.1" width="1.6" height="1.6"/><rect x="219.1" y="134.7" width="1.6" height="1.6"/><rect x="227.3" y="133.7" width="1.6" height="1.6"/><rect x="227.9" y="134.1" width="1.6" height="1.6"/><rect x="230.6" y="133.8" width="1.6" height="1.6"/><rect x="137.3" y="135.0" width="1.6" height="1.6"/><rect x="138.2" y="135.7" width="1.6" height="1.6"/><rect x="140.7" y="135.7" width="1.6" height="1.6"/><rect x="141.3" y="134.9" width="1.6" height="1.6"/><rect x="142.2" y="135.5" width="1.6" height="1.6"/><rect x="143.3" y="135.4" width="1.6" height="1.6"/><rect x="143.8" y="135.2" width="1.6" height="1.6"/><rect x="144.9" y="135.7" width="1.6" height="1.6"/><rect x="145.8" y="135.1" width="1.6" height="1.6"/><rect x="147.3" y="134.9" width="1.6" height="1.6"/><rect x="148.3" y="135.6" width="1.6" height="1.6"/><rect x="149.4" y="135.3" width="1.6" height="1.6"/><rect x="150.1" y="134.7" width="1.6" height="1.6"/><rect x="151.2" y="135.0" width="1.6" height="1.6"/><rect x="152.0" y="135.5" width="1.6" height="1.6"/><rect x="153.5" y="135.2" width="1.6" height="1.6"/><rect x="154.5" y="134.8" width="1.6" height="1.6"/><rect x="154.7" y="135.2" width="1.6" height="1.6"/><rect x="156.7" y="135.6" width="1.6" height="1.6"/><rect x="157.2" y="134.8" width="1.6" height="1.6"/><rect x="158.2" y="134.9" width="1.6" height="1.6"/><rect x="159.9" y="135.2" width="1.6" height="1.6"/><rect x="162.0" y="135.5" width="1.6" height="1.6"/><rect x="163.6" y="134.7" width="1.6" height="1.6"/><rect x="164.0" y="135.5" width="1.6" height="1.6"/><rect x="165.4" y="135.6" width="1.6" height="1.6"/><rect x="168.2" y="134.9" width="1.6" height="1.6"/><rect x="168.9" y="135.4" width="1.6" height="1.6"/><rect x="171.0" y="134.8" width="1.6" height="1.6"/><rect x="177.0" y="134.9" width="1.6" height="1.6"/><rect x="183.4" y="135.6" width="1.6" height="1.6"/><rect x="184.2" y="134.8" width="1.6" height="1.6"/><rect x="195.6" y="134.8" width="1.6" height="1.6"/><rect x="202.8" y="135.4" width="1.6" height="1.6"/><rect x="205.3" y="135.0" width="1.6" height="1.6"/><rect x="218.7" y="135.4" width="1.6" height="1.6"/><rect x="227.6" y="135.1" width="1.6" height="1.6"/><rect x="233.3" y="135.4" width="1.6" height="1.6"/><rect x="107.7" y="136.7" width="1.6" height="1.6"/><rect x="129.2" y="136.3" width="1.6" height="1.6"/><rect x="139.5" y="136.0" width="1.6" height="1.6"/><rect x="140.1" y="136.4" width="1.6" height="1.6"/><rect x="141.7" y="136.2" width="1.6" height="1.6"/><rect x="142.1" y="135.7" width="1.6" height="1.6"/><rect x="143.3" y="135.8" width="1.6" height="1.6"/><rect x="144.3" y="136.2" width="1.6" height="1.6"/><rect x="144.9" y="136.0" width="1.6" height="1.6"/><rect x="145.9" y="136.2" width="1.6" height="1.6"/><rect x="147.3" y="136.4" width="1.6" height="1.6"/><rect x="148.5" y="136.3" width="1.6" height="1.6"/><rect x="149.4" y="136.2" width="1.6" height="1.6"/><rect x="150.6" y="136.1" width="1.6" height="1.6"/><rect x="150.9" y="136.4" width="1.6" height="1.6"/><rect x="152.5" y="136.1" width="1.6" height="1.6"/><rect x="153.2" y="136.1" width="1.6" height="1.6"/><rect x="154.4" y="136.3" width="1.6" height="1.6"/><rect x="155.0" y="136.6" width="1.6" height="1.6"/><rect x="156.0" y="136.3" width="1.6" height="1.6"/><rect x="157.6" y="136.7" width="1.6" height="1.6"/><rect x="157.9" y="135.9" width="1.6" height="1.6"/><rect x="159.0" y="136.4" width="1.6" height="1.6"/><rect x="160.7" y="135.8" width="1.6" height="1.6"/><rect x="161.8" y="136.1" width="1.6" height="1.6"/><rect x="163.4" y="136.7" width="1.6" height="1.6"/><rect x="165.3" y="135.8" width="1.6" height="1.6"/><rect x="168.9" y="136.6" width="1.6" height="1.6"/><rect x="172.3" y="135.7" width="1.6" height="1.6"/><rect x="174.7" y="136.4" width="1.6" height="1.6"/><rect x="179.5" y="136.7" width="1.6" height="1.6"/><rect x="181.7" y="136.1" width="1.6" height="1.6"/><rect x="183.4" y="136.7" width="1.6" height="1.6"/><rect x="197.2" y="136.1" width="1.6" height="1.6"/><rect x="198.7" y="136.0" width="1.6" height="1.6"/><rect x="200.1" y="136.5" width="1.6" height="1.6"/><rect x="204.5" y="136.5" width="1.6" height="1.6"/><rect x="225.2" y="136.6" width="1.6" height="1.6"/><rect x="226.6" y="136.3" width="1.6" height="1.6"/><rect x="232.6" y="136.6" width="1.6" height="1.6"/><rect x="122.6" y="137.2" width="1.6" height="1.6"/><rect x="137.7" y="137.5" width="1.6" height="1.6"/><rect x="140.5" y="137.6" width="1.6" height="1.6"/><rect x="141.2" y="136.9" width="1.6" height="1.6"/><rect x="142.6" y="137.3" width="1.6" height="1.6"/><rect x="143.3" y="136.9" width="1.6" height="1.6"/><rect x="144.1" y="137.3" width="1.6" height="1.6"/><rect x="145.2" y="137.0" width="1.6" height="1.6"/><rect x="146.4" y="137.1" width="1.6" height="1.6"/><rect x="147.4" y="137.1" width="1.6" height="1.6"/><rect x="148.5" y="137.3" width="1.6" height="1.6"/><rect x="149.4" y="137.2" width="1.6" height="1.6"/><rect x="149.7" y="137.7" width="1.6" height="1.6"/><rect x="151.1" y="137.6" width="1.6" height="1.6"/><rect x="152.3" y="136.7" width="1.6" height="1.6"/><rect x="153.1" y="137.3" width="1.6" height="1.6"/><rect x="153.8" y="137.5" width="1.6" height="1.6"/><rect x="155.0" y="136.7" width="1.6" height="1.6"/><rect x="156.0" y="137.2" width="1.6" height="1.6"/><rect x="156.9" y="137.0" width="1.6" height="1.6"/><rect x="158.3" y="137.1" width="1.6" height="1.6"/><rect x="158.9" y="136.7" width="1.6" height="1.6"/><rect x="160.4" y="136.8" width="1.6" height="1.6"/><rect x="161.4" y="136.8" width="1.6" height="1.6"/><rect x="164.1" y="136.8" width="1.6" height="1.6"/><rect x="165.1" y="137.6" width="1.6" height="1.6"/><rect x="175.1" y="137.4" width="1.6" height="1.6"/><rect x="177.1" y="137.1" width="1.6" height="1.6"/><rect x="178.1" y="137.5" width="1.6" height="1.6"/><rect x="179.2" y="137.0" width="1.6" height="1.6"/><rect x="182.2" y="136.9" width="1.6" height="1.6"/><rect x="184.9" y="137.0" width="1.6" height="1.6"/><rect x="192.2" y="137.7" width="1.6" height="1.6"/><rect x="193.1" y="136.9" width="1.6" height="1.6"/><rect x="197.4" y="137.2" width="1.6" height="1.6"/><rect x="204.6" y="137.4" width="1.6" height="1.6"/><rect x="207.3" y="137.5" width="1.6" height="1.6"/><rect x="207.8" y="137.4" width="1.6" height="1.6"/><rect x="225.5" y="137.1" width="1.6" height="1.6"/><rect x="226.6" y="137.3" width="1.6" height="1.6"/><rect x="231.0" y="136.9" width="1.6" height="1.6"/><rect x="233.8" y="136.9" width="1.6" height="1.6"/><rect x="131.9" y="137.8" width="1.6" height="1.6"/><rect x="139.1" y="138.0" width="1.6" height="1.6"/><rect x="141.7" y="138.0" width="1.6" height="1.6"/><rect x="142.6" y="137.8" width="1.6" height="1.6"/><rect x="143.3" y="138.0" width="1.6" height="1.6"/><rect x="144.1" y="138.7" width="1.6" height="1.6"/><rect x="145.6" y="138.6" width="1.6" height="1.6"/><rect x="146.4" y="138.4" width="1.6" height="1.6"/><rect x="146.7" y="138.4" width="1.6" height="1.6"/><rect x="147.9" y="137.8" width="1.6" height="1.6"/><rect x="149.2" y="137.8" width="1.6" height="1.6"/><rect x="150.1" y="138.7" width="1.6" height="1.6"/><rect x="151.1" y="137.9" width="1.6" height="1.6"/><rect x="152.3" y="138.6" width="1.6" height="1.6"/><rect x="153.0" y="137.7" width="1.6" height="1.6"/><rect x="154.4" y="138.3" width="1.6" height="1.6"/><rect x="155.5" y="138.3" width="1.6" height="1.6"/><rect x="155.8" y="138.6" width="1.6" height="1.6"/><rect x="156.8" y="137.9" width="1.6" height="1.6"/><rect x="158.0" y="138.6" width="1.6" height="1.6"/><rect x="159.2" y="138.2" width="1.6" height="1.6"/><rect x="161.6" y="138.4" width="1.6" height="1.6"/><rect x="166.9" y="138.4" width="1.6" height="1.6"/><rect x="168.3" y="138.0" width="1.6" height="1.6"/><rect x="169.5" y="138.5" width="1.6" height="1.6"/><rect x="176.6" y="137.7" width="1.6" height="1.6"/><rect x="177.4" y="137.9" width="1.6" height="1.6"/><rect x="180.6" y="138.7" width="1.6" height="1.6"/><rect x="188.1" y="138.4" width="1.6" height="1.6"/><rect x="190.2" y="137.8" width="1.6" height="1.6"/><rect x="192.4" y="137.9" width="1.6" height="1.6"/><rect x="194.3" y="138.3" width="1.6" height="1.6"/><rect x="195.3" y="138.2" width="1.6" height="1.6"/><rect x="197.2" y="138.5" width="1.6" height="1.6"/><rect x="202.2" y="138.2" width="1.6" height="1.6"/><rect x="203.8" y="138.5" width="1.6" height="1.6"/><rect x="207.8" y="138.5" width="1.6" height="1.6"/><rect x="210.0" y="137.8" width="1.6" height="1.6"/><rect x="217.8" y="138.4" width="1.6" height="1.6"/><rect x="219.6" y="137.8" width="1.6" height="1.6"/><rect x="220.7" y="138.1" width="1.6" height="1.6"/><rect x="223.0" y="138.1" width="1.6" height="1.6"/><rect x="227.2" y="138.6" width="1.6" height="1.6"/><rect x="228.0" y="138.3" width="1.6" height="1.6"/><rect x="230.4" y="138.2" width="1.6" height="1.6"/><rect x="233.3" y="138.0" width="1.6" height="1.6"/><rect x="129.3" y="139.3" width="1.6" height="1.6"/><rect x="134.0" y="138.7" width="1.6" height="1.6"/><rect x="135.5" y="138.8" width="1.6" height="1.6"/><rect x="143.7" y="139.5" width="1.6" height="1.6"/><rect x="144.0" y="139.2" width="1.6" height="1.6"/><rect x="144.8" y="139.6" width="1.6" height="1.6"/><rect x="146.3" y="139.1" width="1.6" height="1.6"/><rect x="147.1" y="139.4" width="1.6" height="1.6"/><rect x="148.4" y="139.6" width="1.6" height="1.6"/><rect x="148.7" y="139.6" width="1.6" height="1.6"/><rect x="150.5" y="139.1" width="1.6" height="1.6"/><rect x="150.7" y="139.1" width="1.6" height="1.6"/><rect x="151.8" y="138.7" width="1.6" height="1.6"/><rect x="153.6" y="139.5" width="1.6" height="1.6"/><rect x="154.1" y="139.1" width="1.6" height="1.6"/><rect x="155.0" y="139.1" width="1.6" height="1.6"/><rect x="155.9" y="139.1" width="1.6" height="1.6"/><rect x="157.2" y="138.8" width="1.6" height="1.6"/><rect x="158.3" y="138.9" width="1.6" height="1.6"/><rect x="159.3" y="139.1" width="1.6" height="1.6"/><rect x="160.6" y="138.8" width="1.6" height="1.6"/><rect x="162.3" y="139.2" width="1.6" height="1.6"/><rect x="165.8" y="138.9" width="1.6" height="1.6"/><rect x="175.0" y="139.4" width="1.6" height="1.6"/><rect x="179.3" y="139.0" width="1.6" height="1.6"/><rect x="182.0" y="139.4" width="1.6" height="1.6"/><rect x="186.5" y="139.0" width="1.6" height="1.6"/><rect x="189.9" y="139.4" width="1.6" height="1.6"/><rect x="196.1" y="139.2" width="1.6" height="1.6"/><rect x="197.6" y="138.8" width="1.6" height="1.6"/><rect x="203.4" y="139.3" width="1.6" height="1.6"/><rect x="204.7" y="138.8" width="1.6" height="1.6"/><rect x="210.3" y="139.3" width="1.6" height="1.6"/><rect x="217.1" y="139.5" width="1.6" height="1.6"/><rect x="221.3" y="139.4" width="1.6" height="1.6"/><rect x="222.1" y="139.6" width="1.6" height="1.6"/><rect x="135.6" y="140.5" width="1.6" height="1.6"/><rect x="139.1" y="140.0" width="1.6" height="1.6"/><rect x="141.3" y="140.6" width="1.6" height="1.6"/><rect x="141.8" y="139.7" width="1.6" height="1.6"/><rect x="143.2" y="140.1" width="1.6" height="1.6"/><rect x="143.8" y="139.7" width="1.6" height="1.6"/><rect x="144.7" y="140.0" width="1.6" height="1.6"/><rect x="146.3" y="139.9" width="1.6" height="1.6"/><rect x="147.3" y="140.7" width="1.6" height="1.6"/><rect x="148.0" y="139.8" width="1.6" height="1.6"/><rect x="148.9" y="139.7" width="1.6" height="1.6"/><rect x="150.0" y="140.4" width="1.6" height="1.6"/><rect x="151.5" y="139.7" width="1.6" height="1.6"/><rect x="152.6" y="140.3" width="1.6" height="1.6"/><rect x="153.1" y="140.5" width="1.6" height="1.6"/><rect x="154.1" y="140.2" width="1.6" height="1.6"/><rect x="154.9" y="140.4" width="1.6" height="1.6"/><rect x="156.4" y="139.7" width="1.6" height="1.6"/><rect x="157.5" y="139.8" width="1.6" height="1.6"/><rect x="158.4" y="140.2" width="1.6" height="1.6"/><rect x="158.7" y="140.4" width="1.6" height="1.6"/><rect x="160.3" y="140.2" width="1.6" height="1.6"/><rect x="162.7" y="140.4" width="1.6" height="1.6"/><rect x="164.4" y="140.1" width="1.6" height="1.6"/><rect x="172.6" y="140.0" width="1.6" height="1.6"/><rect x="173.8" y="140.3" width="1.6" height="1.6"/><rect x="177.4" y="140.4" width="1.6" height="1.6"/><rect x="178.7" y="140.3" width="1.6" height="1.6"/><rect x="180.4" y="140.2" width="1.6" height="1.6"/><rect x="187.4" y="140.4" width="1.6" height="1.6"/><rect x="193.7" y="140.5" width="1.6" height="1.6"/><rect x="197.2" y="140.2" width="1.6" height="1.6"/><rect x="215.1" y="140.4" width="1.6" height="1.6"/><rect x="222.1" y="140.5" width="1.6" height="1.6"/><rect x="228.1" y="139.9" width="1.6" height="1.6"/><rect x="143.3" y="140.8" width="1.6" height="1.6"/><rect x="144.6" y="140.9" width="1.6" height="1.6"/><rect x="145.0" y="141.4" width="1.6" height="1.6"/><rect x="146.3" y="141.5" width="1.6" height="1.6"/><rect x="147.5" y="141.2" width="1.6" height="1.6"/><rect x="148.0" y="141.3" width="1.6" height="1.6"/><rect x="148.9" y="140.8" width="1.6" height="1.6"/><rect x="150.3" y="141.1" width="1.6" height="1.6"/><rect x="151.4" y="141.1" width="1.6" height="1.6"/><rect x="151.8" y="141.3" width="1.6" height="1.6"/><rect x="152.9" y="141.4" width="1.6" height="1.6"/><rect x="154.7" y="141.2" width="1.6" height="1.6"/><rect x="155.4" y="140.9" width="1.6" height="1.6"/><rect x="156.3" y="141.1" width="1.6" height="1.6"/><rect x="157.5" y="141.4" width="1.6" height="1.6"/><rect x="158.7" y="141.6" width="1.6" height="1.6"/><rect x="162.9" y="141.2" width="1.6" height="1.6"/><rect x="163.9" y="141.4" width="1.6" height="1.6"/><rect x="165.3" y="141.1" width="1.6" height="1.6"/><rect x="170.6" y="141.1" width="1.6" height="1.6"/><rect x="175.1" y="141.6" width="1.6" height="1.6"/><rect x="179.8" y="141.4" width="1.6" height="1.6"/><rect x="211.6" y="141.4" width="1.6" height="1.6"/><rect x="215.0" y="141.6" width="1.6" height="1.6"/><rect x="225.2" y="141.3" width="1.6" height="1.6"/><rect x="140.1" y="142.2" width="1.6" height="1.6"/><rect x="141.7" y="142.4" width="1.6" height="1.6"/><rect x="143.6" y="142.3" width="1.6" height="1.6"/><rect x="144.2" y="142.5" width="1.6" height="1.6"/><rect x="145.7" y="141.8" width="1.6" height="1.6"/><rect x="146.3" y="142.4" width="1.6" height="1.6"/><rect x="147.6" y="141.9" width="1.6" height="1.6"/><rect x="148.2" y="142.1" width="1.6" height="1.6"/><rect x="149.1" y="142.6" width="1.6" height="1.6"/><rect x="150.4" y="142.3" width="1.6" height="1.6"/><rect x="151.6" y="142.0" width="1.6" height="1.6"/><rect x="151.9" y="142.4" width="1.6" height="1.6"/><rect x="153.1" y="141.8" width="1.6" height="1.6"/><rect x="154.0" y="142.3" width="1.6" height="1.6"/><rect x="154.7" y="141.7" width="1.6" height="1.6"/><rect x="157.9" y="142.1" width="1.6" height="1.6"/><rect x="162.6" y="141.8" width="1.6" height="1.6"/><rect x="187.8" y="142.5" width="1.6" height="1.6"/><rect x="207.7" y="142.3" width="1.6" height="1.6"/><rect x="209.3" y="141.7" width="1.6" height="1.6"/><rect x="229.1" y="142.6" width="1.6" height="1.6"/><rect x="132.1" y="143.3" width="1.6" height="1.6"/><rect x="140.2" y="143.0" width="1.6" height="1.6"/><rect x="141.9" y="142.7" width="1.6" height="1.6"/><rect x="144.0" y="143.6" width="1.6" height="1.6"/><rect x="145.1" y="143.1" width="1.6" height="1.6"/><rect x="146.5" y="143.7" width="1.6" height="1.6"/><rect x="146.8" y="142.9" width="1.6" height="1.6"/><rect x="148.0" y="143.3" width="1.6" height="1.6"/><rect x="148.8" y="143.0" width="1.6" height="1.6"/><rect x="150.3" y="143.1" width="1.6" height="1.6"/><rect x="150.8" y="142.9" width="1.6" height="1.6"/><rect x="151.8" y="143.2" width="1.6" height="1.6"/><rect x="152.7" y="143.0" width="1.6" height="1.6"/><rect x="154.3" y="143.4" width="1.6" height="1.6"/><rect x="155.1" y="143.0" width="1.6" height="1.6"/><rect x="185.2" y="143.4" width="1.6" height="1.6"/><rect x="188.8" y="143.2" width="1.6" height="1.6"/><rect x="204.9" y="143.6" width="1.6" height="1.6"/><rect x="211.6" y="143.2" width="1.6" height="1.6"/><rect x="213.3" y="143.6" width="1.6" height="1.6"/><rect x="143.2" y="144.3" width="1.6" height="1.6"/><rect x="143.9" y="144.4" width="1.6" height="1.6"/><rect x="145.1" y="144.3" width="1.6" height="1.6"/><rect x="146.0" y="143.8" width="1.6" height="1.6"/><rect x="147.5" y="144.1" width="1.6" height="1.6"/><rect x="148.5" y="144.4" width="1.6" height="1.6"/><rect x="149.7" y="143.7" width="1.6" height="1.6"/><rect x="150.2" y="144.5" width="1.6" height="1.6"/><rect x="150.8" y="144.3" width="1.6" height="1.6"/><rect x="152.4" y="144.0" width="1.6" height="1.6"/><rect x="153.0" y="144.5" width="1.6" height="1.6"/><rect x="154.0" y="144.4" width="1.6" height="1.6"/><rect x="155.5" y="144.3" width="1.6" height="1.6"/><rect x="130.3" y="145.4" width="1.6" height="1.6"/><rect x="140.4" y="145.2" width="1.6" height="1.6"/><rect x="143.8" y="145.5" width="1.6" height="1.6"/><rect x="145.4" y="144.9" width="1.6" height="1.6"/><rect x="145.8" y="144.8" width="1.6" height="1.6"/><rect x="147.2" y="145.2" width="1.6" height="1.6"/><rect x="148.5" y="144.9" width="1.6" height="1.6"/><rect x="149.1" y="145.2" width="1.6" height="1.6"/><rect x="149.9" y="145.0" width="1.6" height="1.6"/><rect x="150.9" y="145.6" width="1.6" height="1.6"/><rect x="152.3" y="145.5" width="1.6" height="1.6"/><rect x="154.7" y="145.6" width="1.6" height="1.6"/><rect x="156.5" y="145.3" width="1.6" height="1.6"/><rect x="157.1" y="145.4" width="1.6" height="1.6"/><rect x="165.5" y="144.8" width="1.6" height="1.6"/><rect x="175.0" y="145.6" width="1.6" height="1.6"/><rect x="203.6" y="144.9" width="1.6" height="1.6"/><rect x="226.8" y="145.6" width="1.6" height="1.6"/><rect x="140.6" y="146.6" width="1.6" height="1.6"/><rect x="140.9" y="146.6" width="1.6" height="1.6"/><rect x="143.5" y="146.3" width="1.6" height="1.6"/><rect x="144.4" y="146.1" width="1.6" height="1.6"/><rect x="145.6" y="146.4" width="1.6" height="1.6"/><rect x="146.1" y="146.4" width="1.6" height="1.6"/><rect x="147.0" y="146.2" width="1.6" height="1.6"/><rect x="147.8" y="146.0" width="1.6" height="1.6"/><rect x="149.7" y="146.7" width="1.6" height="1.6"/><rect x="150.3" y="145.8" width="1.6" height="1.6"/><rect x="150.8" y="146.2" width="1.6" height="1.6"/><rect x="154.6" y="146.4" width="1.6" height="1.6"/><rect x="155.6" y="146.0" width="1.6" height="1.6"/><rect x="157.6" y="146.2" width="1.6" height="1.6"/><rect x="178.5" y="146.1" width="1.6" height="1.6"/><rect x="189.0" y="145.8" width="1.6" height="1.6"/><rect x="212.2" y="145.9" width="1.6" height="1.6"/><rect x="141.9" y="146.9" width="1.6" height="1.6"/><rect x="144.6" y="147.1" width="1.6" height="1.6"/><rect x="145.1" y="146.8" width="1.6" height="1.6"/><rect x="147.1" y="147.1" width="1.6" height="1.6"/><rect x="147.9" y="147.7" width="1.6" height="1.6"/><rect x="149.1" y="147.6" width="1.6" height="1.6"/><rect x="150.6" y="147.4" width="1.6" height="1.6"/><rect x="151.2" y="147.4" width="1.6" height="1.6"/><rect x="154.6" y="147.5" width="1.6" height="1.6"/><rect x="141.9" y="148.5" width="1.6" height="1.6"/><rect x="146.2" y="147.7" width="1.6" height="1.6"/><rect x="147.3" y="148.0" width="1.6" height="1.6"/><rect x="147.9" y="148.1" width="1.6" height="1.6"/><rect x="148.9" y="148.4" width="1.6" height="1.6"/><rect x="149.7" y="147.8" width="1.6" height="1.6"/><rect x="176.7" y="148.5" width="1.6" height="1.6"/><rect x="140.6" y="148.9" width="1.6" height="1.6"/><rect x="144.2" y="149.0" width="1.6" height="1.6"/><rect x="146.8" y="149.2" width="1.6" height="1.6"/><rect x="148.1" y="149.1" width="1.6" height="1.6"/><rect x="148.8" y="149.4" width="1.6" height="1.6"/><rect x="154.6" y="149.2" width="1.6" height="1.6"/><rect x="139.4" y="149.7" width="1.6" height="1.6"/><rect x="145.8" y="149.9" width="1.6" height="1.6"/><rect x="146.9" y="150.0" width="1.6" height="1.6"/><rect x="148.3" y="149.9" width="1.6" height="1.6"/><rect x="149.4" y="150.2" width="1.6" height="1.6"/><rect x="152.7" y="150.4" width="1.6" height="1.6"/><rect x="155.9" y="150.6" width="1.6" height="1.6"/><rect x="150.4" y="150.9" width="1.6" height="1.6"/><rect x="151.0" y="151.6" width="1.6" height="1.6"/><rect x="159.8" y="151.0" width="1.6" height="1.6"/><rect x="144.2" y="152.2" width="1.6" height="1.6"/><rect x="144.9" y="152.2" width="1.6" height="1.6"/><rect x="146.8" y="152.0" width="1.6" height="1.6"/><rect x="147.8" y="152.3" width="1.6" height="1.6"/><rect x="149.2" y="152.4" width="1.6" height="1.6"/><rect x="150.2" y="152.3" width="1.6" height="1.6"/><rect x="145.1" y="153.2" width="1.6" height="1.6"/><rect x="146.0" y="153.2" width="1.6" height="1.6"/><rect x="150.2" y="153.0" width="1.6" height="1.6"/><rect x="151.2" y="153.3" width="1.6" height="1.6"/><rect x="154.7" y="153.2" width="1.6" height="1.6"/><rect x="166.5" y="153.5" width="1.6" height="1.6"/><rect x="144.2" y="154.6" width="1.6" height="1.6"/><rect x="148.9" y="153.9" width="1.6" height="1.6"/><rect x="149.8" y="154.5" width="1.6" height="1.6"/><rect x="147.2" y="155.2" width="1.6" height="1.6"/><rect x="148.4" y="154.9" width="1.6" height="1.6"/><rect x="150.6" y="155.0" width="1.6" height="1.6"/><rect x="150.9" y="154.9" width="1.6" height="1.6"/><rect x="152.0" y="155.7" width="1.6" height="1.6"/><rect x="147.4" y="156.4" width="1.6" height="1.6"/><rect x="148.1" y="155.8" width="1.6" height="1.6"/><rect x="150.6" y="155.8" width="1.6" height="1.6"/><rect x="148.2" y="156.8" width="1.6" height="1.6"/><rect x="143.7" y="158.2" width="1.6" height="1.6"/><rect x="146.6" y="157.8" width="1.6" height="1.6"/><rect x="148.2" y="159.5" width="1.6" height="1.6"/><rect x="143.5" y="160.3" width="1.6" height="1.6"/><rect x="145.6" y="159.8" width="1.6" height="1.6"/><rect x="153.9" y="159.8" width="1.6" height="1.6"/><rect x="146.0" y="161.1" width="1.6" height="1.6"/><rect x="149.3" y="161.7" width="1.6" height="1.6"/><rect x="145.5" y="163.4" width="1.6" height="1.6"/><rect x="144.0" y="163.9" width="1.6" height="1.6"/><rect x="223.1" y="163.7" width="1.6" height="1.6"/><rect x="148.6" y="166.7" width="1.6" height="1.6"/><rect x="154.0" y="166.5" width="1.6" height="1.6"/><rect x="155.6" y="167.6" width="1.6" height="1.6"/><rect x="149.8" y="169.2" width="1.6" height="1.6"/></g><g fill="#dc3545"><rect x="64.1" y="102.2" width="1.6" height="1.6"/><rect x="92.1" y="120.1" width="1.6" height="1.6"/><rect x="95.1" y="118.5" width="1.6" height="1.6"/><rect x="137.2" y="89.4" width="1.6" height="1.6"/><rect x="136.2" y="102.0" width="1.6" height="1.6"/><rect x="136.2" y="103.0" width="1.6" height="1.6"/><rect x="134.0" y="110.5" width="1.6" height="1.6"/><rect x="124.2" y="115.3" width="1.6" height="1.6"/><rect x="128.7" y="114.5" width="1.6" height="1.6"/><rect x="128.0" y="118.7" width="1.6" height="1.6"/><rect x="109.2" y="119.9" width="1.6" height="1.6"/><rect x="113.7" y="122.0" width="1.6" height="1.6"/><rect x="131.5" y="120.0" width="1.6" height="1.6"/><rect x="134.9" y="121.3" width="1.6" height="1.6"/></g><g fill="#27ae3f"><rect x="162.8" y="153.6" width="1.6" height="1.6"/><rect x="166.6" y="153.6" width="1.6" height="1.6"/><rect x="162.1" y="161.5" width="1.6" height="1.6"/><rect x="165.6" y="160.1" width="1.6" height="1.6"/><rect x="165.6" y="167.2" width="1.6" height="1.6"/><rect x="159.9" y="167.9" width="1.6" height="1.6"/><rect x="163.2" y="173.6" width="1.6" height="1.6"/><rect x="166.1" y="175.8" width="1.6" height="1.6"/><rect x="164.2" y="149.3" width="1.6" height="1.6"/><rect x="167.1" y="150.1" width="1.6" height="1.6"/><rect x="161.2" y="144.5" width="1.6" height="1.6"/><rect x="164.2" y="144.5" width="1.6" height="1.6"/><rect x="169.9" y="148.5" width="1.6" height="1.6"/><rect x="175.6" y="147.8" width="1.6" height="1.6"/><rect x="179.2" y="147.8" width="1.6" height="1.6"/><rect x="180.3" y="147.3" width="1.6" height="1.6"/><rect x="177.8" y="145.3" width="1.6" height="1.6"/><rect x="179.9" y="144.9" width="1.6" height="1.6"/><rect x="184.2" y="147.1" width="1.6" height="1.6"/><rect x="183.5" y="149.9" width="1.6" height="1.6"/><rect x="184.9" y="150.2" width="1.6" height="1.6"/><rect x="187.1" y="151.1" width="1.6" height="1.6"/><rect x="188.5" y="150.6" width="1.6" height="1.6"/><rect x="191.3" y="150.6" width="1.6" height="1.6"/><rect x="195.6" y="150.2" width="1.6" height="1.6"/><rect x="197.1" y="148.8" width="1.6" height="1.6"/><rect x="199.9" y="146.8" width="1.6" height="1.6"/><rect x="203.5" y="145.9" width="1.6" height="1.6"/><rect x="201.3" y="149.2" width="1.6" height="1.6"/><rect x="206.3" y="149.6" width="1.6" height="1.6"/><rect x="174.9" y="152.5" width="1.6" height="1.6"/><rect x="177.1" y="150.6" width="1.6" height="1.6"/><rect x="189.2" y="152.8" width="1.6" height="1.6"/><rect x="187.8" y="154.2" width="1.6" height="1.6"/><rect x="170.6" y="156.3" width="1.6" height="1.6"/><rect x="184.2" y="156.3" width="1.6" height="1.6"/><rect x="187.1" y="157.3" width="1.6" height="1.6"/><rect x="205.6" y="153.1" width="1.6" height="1.6"/><rect x="192.8" y="159.9" width="1.6" height="1.6"/><rect x="198.5" y="158.9" width="1.6" height="1.6"/><rect x="200.9" y="158.5" width="1.6" height="1.6"/><rect x="205.6" y="159.2" width="1.6" height="1.6"/><rect x="171.8" y="162.1" width="1.6" height="1.6"/><rect x="178.5" y="161.3" width="1.6" height="1.6"/><rect x="183.5" y="163.5" width="1.6" height="1.6"/><rect x="190.6" y="163.5" width="1.6" height="1.6"/><rect x="204.2" y="163.9" width="1.6" height="1.6"/><rect x="207.1" y="165.6" width="1.6" height="1.6"/><rect x="189.2" y="167.3" width="1.6" height="1.6"/><rect x="173.5" y="168.2" width="1.6" height="1.6"/><rect x="177.1" y="169.2" width="1.6" height="1.6"/><rect x="170.9" y="172.1" width="1.6" height="1.6"/><rect x="192.8" y="170.6" width="1.6" height="1.6"/><rect x="189.2" y="172.8" width="1.6" height="1.6"/><rect x="190.3" y="174.2" width="1.6" height="1.6"/><rect x="208.9" y="151.6" width="1.6" height="1.6"/><rect x="212.8" y="148.5" width="1.6" height="1.6"/><rect x="214.2" y="148.5" width="1.6" height="1.6"/><rect x="227.1" y="150.2" width="1.6" height="1.6"/><rect x="228.5" y="151.6" width="1.6" height="1.6"/><rect x="228.5" y="145.6" width="1.6" height="1.6"/><rect x="221.3" y="156.3" width="1.6" height="1.6"/><rect x="210.3" y="165.3" width="1.6" height="1.6"/><rect x="220.6" y="163.5" width="1.6" height="1.6"/><rect x="226.6" y="163.5" width="1.6" height="1.6"/><rect x="217.8" y="172.8" width="1.6" height="1.6"/><rect x="191.2" y="149.9" width="1.6" height="1.6"/><rect x="197.8" y="146.3" width="1.6" height="1.6"/><rect x="206.2" y="149.2" width="1.6" height="1.6"/><rect x="208.5" y="152.1" width="1.6" height="1.6"/><rect x="227.5" y="145.6" width="1.6" height="1.6"/><rect x="225.6" y="153.1" width="1.6" height="1.6"/><rect x="160.7" y="188.3" width="1.6" height="1.6"/><rect x="168.3" y="188.7" width="1.6" height="1.6"/><rect x="218.4" y="185.8" width="1.6" height="1.6"/><rect x="162.1" y="206.0" width="1.6" height="1.6"/><rect x="166.8" y="217.5" width="1.6" height="1.6"/><rect x="173.8" y="217.5" width="1.6" height="1.6"/><rect x="231.6" y="217.5" width="1.6" height="1.6"/><rect x="160.4" y="188.1" width="1.6" height="1.6"/><rect x="233.2" y="146.2" width="1.6" height="1.6"/><rect x="233.2" y="149.2" width="1.6" height="1.6"/><rect x="233.2" y="154.2" width="1.6" height="1.6"/><rect x="233.2" y="158.2" width="1.6" height="1.6"/><rect x="233.2" y="162.2" width="1.6" height="1.6"/><rect x="233.2" y="167.2" width="1.6" height="1.6"/><rect x="233.2" y="170.2" width="1.6" height="1.6"/><rect x="233.2" y="174.2" width="1.6" height="1.6"/><rect x="233.2" y="177.2" width="1.6" height="1.6"/><rect x="233.2" y="185.8" width="1.6" height="1.6"/></g><g fill="#1b5a92"><rect x="233.6" y="104" width="1.6" height="8.5"/><rect x="233.6" y="121" width="1.6" height="24"/></g><g fill="#27ae3f"><rect x="233.6" y="145.2" width="1.6" height="17"/><rect x="233.6" y="165" width="1.6" height="4"/><rect x="233.6" y="171" width="1.6" height="2"/></g><g stroke="#8a8a8a" stroke-width="0.9"><line x1="219.3" y1="202" x2="219.3" y2="204.6"/><line x1="230.6" y1="181.6" x2="232.6" y2="180.2"/></g>
<text x="61.20" y="55.1" class="k" font-size="8.0" text-anchor="end">10</text>
<text x="61.20" y="95.3" class="k" font-size="8.0" text-anchor="end">5</text>
<text x="61.20" y="135.5" class="k" font-size="8.0" text-anchor="end">0</text>
<text x="61.20" y="176.1" class="k" font-size="8.0" text-anchor="end">−5</text>
<text x="61.20" y="215.9" class="k" font-size="8.0" text-anchor="end">−10</text>
<text x="63.40" y="226.9" class="k" font-size="8.1" text-anchor="middle">−10</text>
<text x="106.50" y="226.9" class="k" font-size="8.1" text-anchor="middle">−5</text>
<text x="147.70" y="226.9" class="k" font-size="8.1" text-anchor="middle">0</text>
<text x="188.30" y="226.9" class="k" font-size="8.1" text-anchor="middle">5</text>
<text x="228.20" y="226.9" class="k" font-size="8.1" text-anchor="middle">10</text>
<text transform="translate(149.30,239.60) scale(0.7706,1)" font-size="8.2" class="t" text-anchor="middle">Log10 (adjusted p-value)</text>
<text transform="translate(148.80,250.50) scale(0.7772,1)" font-size="8.2" class="t" text-anchor="middle">Methylation ratio &lt; 0, Log10 (adjusted p-value)</text>
<text transform="translate(149.30,261.20) scale(0.7904,1)" font-size="8.2" class="t" text-anchor="middle">Methylation ratio &gt;= 0, −Log10 (adjusted p-value)</text>
<text x="149.10" y="272.9" font-size="8.7" font-weight="bold" class="b" text-anchor="middle" textLength="74.8" lengthAdjust="spacingAndGlyphs">DNA methylation</text>
<text transform="translate(14.00,134.85000000000002) rotate(-90)" font-size="8.8" font-weight="bold" class="b" text-anchor="middle" textLength="74.7" lengthAdjust="spacingAndGlyphs">Gene expression</text>
<text transform="translate(25.00,133.30) rotate(-90) scale(0.7795,1)" font-size="8.2" class="t" text-anchor="middle">Fold expression &lt; 0, Log10 (adjusted p-value);</text>
<text transform="translate(35.30,133.30) rotate(-90) scale(0.7841,1)" font-size="8.2" class="t" text-anchor="middle">Fold expression &gt;= 0, −Log10 (adjusted p-value)</text>
<text transform="translate(45.80,133.30) rotate(-90) scale(0.7474,1)" font-size="8.2" class="t" text-anchor="middle">Log10 (adjusted p-value)</text>
<defs>
<linearGradient id="gbB" gradientUnits="userSpaceOnUse" x1="0" y1="28.2" x2="0" y2="38.6"><stop offset="0" stop-color="#f4f8fb"/><stop offset="0.35" stop-color="#d6e3ef"/><stop offset="0.75" stop-color="#a3bdd6"/><stop offset="1" stop-color="#6a90b6"/></linearGradient>
<linearGradient id="grB" gradientUnits="userSpaceOnUse" x1="0" y1="28.2" x2="0" y2="38.6"><stop offset="0" stop-color="#fcedf0"/><stop offset="0.35" stop-color="#f5cdd4"/><stop offset="0.75" stop-color="#e99aa6"/><stop offset="1" stop-color="#d66275"/></linearGradient>
<linearGradient id="guB" gradientUnits="userSpaceOnUse" x1="497.8" y1="0" x2="508.2" y2="0"><stop offset="0" stop-color="#fcedf0"/><stop offset="0.35" stop-color="#f5cdd4"/><stop offset="0.75" stop-color="#e99aa6"/><stop offset="1" stop-color="#d66275"/></linearGradient>
<linearGradient id="gdB" gradientUnits="userSpaceOnUse" x1="508.2" y1="0" x2="497.8" y2="0"><stop offset="0" stop-color="#eef8ee"/><stop offset="0.35" stop-color="#d2ecd2"/><stop offset="0.75" stop-color="#a6d8a6"/><stop offset="1" stop-color="#78bd78"/></linearGradient>
</defs>
<text x="279.60" y="14.6" font-size="11" font-weight="bold" fill="#111" stroke="#111" stroke-width="0.25">B</text>
<path d="M319.3,33.1 L329.5,23.2 L329.5,28.2 L398.6,28.2 L398.6,38.6 L329.5,38.6 L329.5,43.1 Z" fill="url(#gbB)" stroke="#4a4a4a" stroke-width="0.9"/>
<path d="M489.7,33.2 L479.8,23.3 L479.8,28.2 L410.9,28.2 L410.9,38.6 L479.8,38.6 L479.8,43.1 Z" fill="url(#grB)" stroke="#4a4a4a" stroke-width="0.9"/>
<text transform="translate(331.90,35.90) scale(0.8923,1)" font-size="6.9" class="ar" text-anchor="start">LOW-METHYLATED</text>
<text transform="translate(417.70,36.10) scale(0.8651,1)" font-size="6.9" class="ar" text-anchor="start">HIGH-METHYLATED</text>
<path d="M503.1,51.2 L512.8,61.6 L508.2,61.6 L508.2,130 L497.8,130 L497.8,61.6 L493,61.6 Z" fill="url(#guB)" stroke="#4a4a4a" stroke-width="0.9"/>
<path d="M503.0,218.1 L513,208.2 L508.2,208.2 L508.2,139.3 L497.8,139.3 L497.8,208.2 L493,208.2 Z" fill="url(#gdB)" stroke="#4a4a4a" stroke-width="0.9"/>
<text transform="translate(506.00,118.00) rotate(-90) scale(0.9384,1)" font-size="6.6" class="ar" text-anchor="start">UPREGULATED</text>
<text transform="translate(505.30,205.00) rotate(-90) scale(0.9830,1)" font-size="6.3" class="ar" text-anchor="start">DOWNREGULATED</text>
<g stroke="#6a6a6a" stroke-width="1" stroke-dasharray="1.7,1.3">
<line x1="320.0" y1="123.0" x2="489" y2="123.0"/>
<line x1="320.0" y1="145.0" x2="489" y2="145.0"/>
<line x1="392.5" y1="49.05" x2="392.5" y2="218"/>
<line x1="415" y1="49.05" x2="415" y2="218"/>
</g>
<rect x="319.85" y="49.2" width="169.05" height="169.2" fill="none" stroke="#2b2b2b" stroke-width="1.25"/>
<g fill="#1b5a92"><rect x="319.2" y="130.6" width="1.6" height="1.6"/><rect x="319.2" y="132.4" width="1.6" height="1.6"/><rect x="319.2" y="134.2" width="1.6" height="1.6"/><rect x="337.9" y="132.1" width="1.6" height="1.6"/><rect x="365.6" y="134.9" width="1.6" height="1.6"/><rect x="373.6" y="132.5" width="1.6" height="1.6"/><rect x="377.9" y="133.2" width="1.6" height="1.6"/><rect x="379.9" y="131.8" width="1.6" height="1.6"/><rect x="384.6" y="130.9" width="1.6" height="1.6"/><rect x="385.1" y="132.8" width="1.6" height="1.6"/><rect x="385.6" y="135.2" width="1.6" height="1.6"/><rect x="388.9" y="134.9" width="1.6" height="1.6"/><rect x="393.9" y="133.2" width="1.6" height="1.6"/><rect x="395.3" y="133.8" width="1.6" height="1.6"/><rect x="396.8" y="134.6" width="1.6" height="1.6"/><rect x="407.5" y="104.6" width="1.6" height="1.6"/><rect x="402.9" y="116.3" width="1.6" height="1.6"/><rect x="395.8" y="133.8" width="1.6" height="1.6"/><rect x="398.6" y="132.8" width="1.6" height="1.6"/><rect x="399.6" y="133.5" width="1.6" height="1.6"/><rect x="401.1" y="132.1" width="1.6" height="1.6"/><rect x="403.5" y="129.5" width="1.6" height="1.6"/><rect x="400.6" y="134.6" width="1.6" height="1.6"/><rect x="402.5" y="133.5" width="1.6" height="1.6"/><rect x="404.3" y="131.3" width="1.6" height="1.6"/><rect x="405.3" y="132.8" width="1.6" height="1.6"/><rect x="406.3" y="130.6" width="1.6" height="1.6"/><rect x="408.9" y="130.3" width="1.6" height="1.6"/><rect x="409.6" y="132.8" width="1.6" height="1.6"/><rect x="411.8" y="134.6" width="1.6" height="1.6"/><rect x="415.3" y="132.3" width="1.6" height="1.6"/><rect x="418.2" y="130.9" width="1.6" height="1.6"/><rect x="418.9" y="133.2" width="1.6" height="1.6"/><rect x="420.3" y="132.1" width="1.6" height="1.6"/><rect x="427.2" y="132.3" width="1.6" height="1.6"/><rect x="431.5" y="132.3" width="1.6" height="1.6"/><rect x="432.5" y="133.5" width="1.6" height="1.6"/><rect x="438.1" y="112.1" width="1.6" height="1.6"/><rect x="454.6" y="111.3" width="1.6" height="1.6"/><rect x="466.3" y="112.1" width="1.6" height="1.6"/><rect x="433.5" y="121.3" width="1.6" height="1.6"/><rect x="445.6" y="126.3" width="1.6" height="1.6"/><rect x="459.2" y="123.8" width="1.6" height="1.6"/><rect x="463.5" y="123.5" width="1.6" height="1.6"/><rect x="430.9" y="132.1" width="1.6" height="1.6"/><rect x="432.8" y="133.5" width="1.6" height="1.6"/><rect x="451.3" y="134.9" width="1.6" height="1.6"/><rect x="457.1" y="134.9" width="1.6" height="1.6"/><rect x="459.2" y="133.2" width="1.6" height="1.6"/><rect x="461.8" y="138.1" width="1.6" height="1.6"/><rect x="459.9" y="123.2" width="1.6" height="1.6"/><rect x="459.9" y="133.2" width="1.6" height="1.6"/><rect x="475.2" y="134.2" width="1.6" height="1.6"/><rect x="462.1" y="138.5" width="1.6" height="1.6"/><rect x="473.6" y="142.2" width="1.6" height="1.6"/><rect x="329.8" y="139.9" width="1.6" height="1.6"/><rect x="385.3" y="135.3" width="1.6" height="1.6"/><rect x="396.8" y="142.1" width="1.6" height="1.6"/><rect x="418.2" y="141.5" width="1.6" height="1.6"/><rect x="401.5" y="171.1" width="1.6" height="1.6"/><rect x="412.5" y="134.9" width="1.6" height="1.6"/><rect x="418.2" y="133.9" width="1.6" height="1.6"/><rect x="488.2" y="65.3" width="1.6" height="1.6"/><rect x="488.2" y="99.9" width="1.6" height="1.6"/><rect x="488.2" y="130.3" width="1.6" height="1.6"/><rect x="488.2" y="134.1" width="1.6" height="1.6"/><rect x="488.2" y="142.2" width="1.6" height="1.6"/></g><g fill="#dc3545"><rect x="319.2" y="96.8" width="1.6" height="1.6"/><rect x="374.9" y="110.6" width="1.6" height="1.6"/><rect x="372.9" y="116.3" width="1.6" height="1.6"/><rect x="371.8" y="120.2" width="1.6" height="1.6"/></g><g fill="#27ae3f"><rect x="425.9" y="154.5" width="1.6" height="1.6"/><rect x="488.2" y="154.5" width="1.6" height="1.6"/></g>
<text x="316.20" y="55.1" class="k" font-size="8.0" text-anchor="end">10</text>
<text x="316.20" y="95.3" class="k" font-size="8.0" text-anchor="end">5</text>
<text x="316.20" y="135.5" class="k" font-size="8.0" text-anchor="end">0</text>
<text x="316.20" y="176.1" class="k" font-size="8.0" text-anchor="end">−5</text>
<text x="316.20" y="215.9" class="k" font-size="8.0" text-anchor="end">−10</text>
<text x="319.60" y="226.9" class="k" font-size="8.1" text-anchor="middle">−10</text>
<text x="362.70" y="226.9" class="k" font-size="8.1" text-anchor="middle">−5</text>
<text x="403.90" y="226.9" class="k" font-size="8.1" text-anchor="middle">0</text>
<text x="444.50" y="226.9" class="k" font-size="8.1" text-anchor="middle">5</text>
<text x="484.40" y="226.9" class="k" font-size="8.1" text-anchor="middle">10</text>
<text transform="translate(404.30,239.60) scale(0.7706,1)" font-size="8.2" class="t" text-anchor="middle">Log10 (adjusted p-value)</text>
<text transform="translate(403.80,250.50) scale(0.7772,1)" font-size="8.2" class="t" text-anchor="middle">Methylation ratio &lt; 0, Log10 (adjusted p-value)</text>
<text transform="translate(404.30,261.20) scale(0.7904,1)" font-size="8.2" class="t" text-anchor="middle">Methylation ratio &gt;= 0, −Log10 (adjusted p-value)</text>
<text x="404.10" y="272.9" font-size="8.7" font-weight="bold" class="b" text-anchor="middle" textLength="74.8" lengthAdjust="spacingAndGlyphs">DNA methylation</text>
<text transform="translate(269.00,134.85000000000002) rotate(-90)" font-size="8.8" font-weight="bold" class="b" text-anchor="middle" textLength="74.7" lengthAdjust="spacingAndGlyphs">Gene expression</text>
<text transform="translate(280.00,133.30) rotate(-90) scale(0.7795,1)" font-size="8.2" class="t" text-anchor="middle">Fold expression &lt; 0, Log10 (adjusted p-value);</text>
<text transform="translate(290.30,133.30) rotate(-90) scale(0.7841,1)" font-size="8.2" class="t" text-anchor="middle">Fold expression &gt;= 0, −Log10 (adjusted p-value)</text>
<text transform="translate(300.80,133.30) rotate(-90) scale(0.7474,1)" font-size="8.2" class="t" text-anchor="middle">Log10 (adjusted p-value)</text>
</svg>
<svg id="frame" width="520" height="280" viewBox="0 0 520 280">
<path d="M0.5,0.5 H519.2 V278.9 H0.5 Z" fill="none" stroke="#151515" stroke-width="1"/>
<rect x="518.5" y="0" width="1.5" height="280" fill="#151515"/>
<rect x="0" y="278" width="520" height="2" fill="#151515"/>
</svg>
</body></html>
